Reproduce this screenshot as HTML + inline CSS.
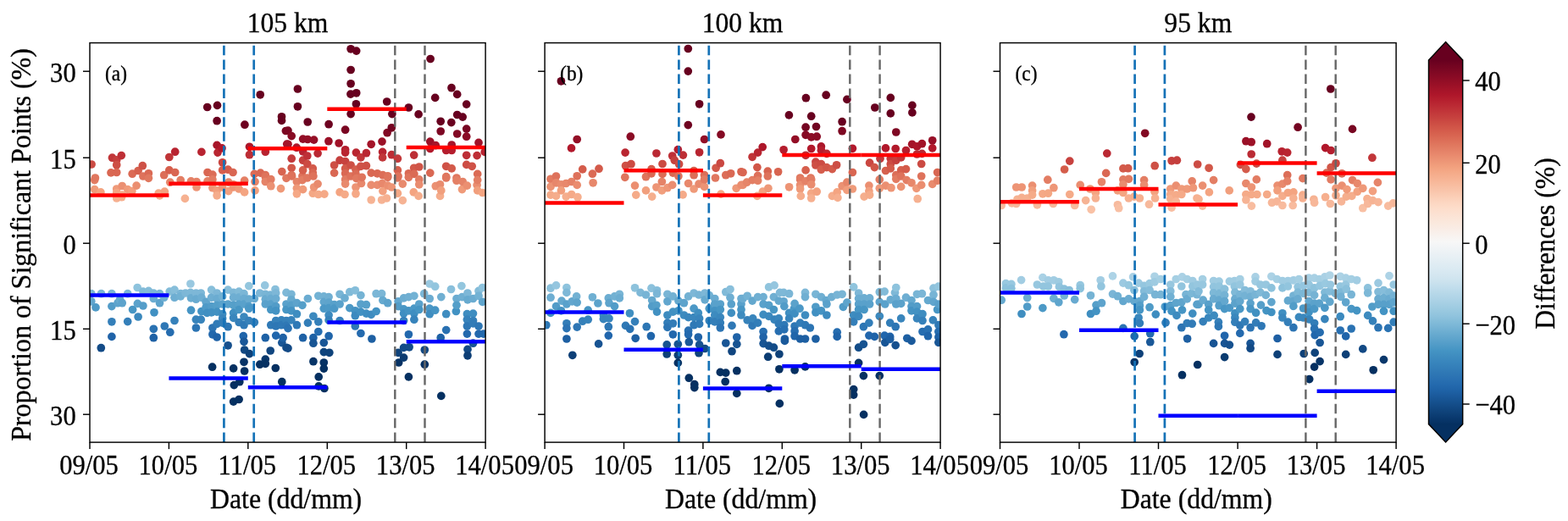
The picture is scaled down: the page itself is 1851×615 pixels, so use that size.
<!DOCTYPE html>
<html lang="en"><head><meta charset="utf-8"><title>Proportion of Significant Points</title>
<style>html,body{margin:0;padding:0;background:#fff}body{width:1851px;height:615px;overflow:hidden}svg{display:block}text{font-family:'Liberation Serif', 'DejaVu Serif', serif;fill:#000;stroke:#000;stroke-width:0.30px}</style>
</head><body>
<svg width="1851" height="615" viewBox="0 0 1851 615">
<rect width="1851" height="615" fill="#fff"/>
<g id="panel0">
<clipPath id="clip0"><rect x="106.0" y="50.6" width="467.1" height="471.5"/></clipPath>
<g clip-path="url(#clip0)">
<circle cx="107.8" cy="346.7" r="4.85" fill="#7bb6d6"/>
<circle cx="107.8" cy="355.8" r="4.85" fill="#62a6ce"/>
<circle cx="108.1" cy="194.0" r="4.85" fill="#cc4c44"/>
<circle cx="111.7" cy="212.6" r="4.85" fill="#e37e64"/>
<circle cx="111.7" cy="223.6" r="4.85" fill="#f09b7a"/>
<circle cx="112.4" cy="210.0" r="4.85" fill="#e0775f"/>
<circle cx="113.0" cy="362.9" r="4.85" fill="#4e9ac7"/>
<circle cx="118.9" cy="226.9" r="4.85" fill="#f4a481"/>
<circle cx="119.3" cy="410.7" r="4.85" fill="#134b87"/>
<circle cx="119.5" cy="346.7" r="4.85" fill="#7bb6d6"/>
<circle cx="131.0" cy="203.9" r="4.85" fill="#d96752"/>
<circle cx="131.9" cy="346.7" r="4.85" fill="#7bb6d6"/>
<circle cx="131.9" cy="361.6" r="4.85" fill="#529cc8"/>
<circle cx="131.9" cy="379.8" r="4.85" fill="#347fb9"/>
<circle cx="131.9" cy="397.4" r="4.85" fill="#2063a8"/>
<circle cx="132.5" cy="186.2" r="4.85" fill="#c13639"/>
<circle cx="137.7" cy="188.8" r="4.85" fill="#c53e3d"/>
<circle cx="137.7" cy="194.7" r="4.85" fill="#cd4e44"/>
<circle cx="137.7" cy="203.5" r="4.85" fill="#d96652"/>
<circle cx="137.7" cy="223.0" r="4.85" fill="#ef9a79"/>
<circle cx="137.7" cy="227.5" r="4.85" fill="#f4a582"/>
<circle cx="137.7" cy="234.0" r="4.85" fill="#f6b090"/>
<circle cx="139.0" cy="357.7" r="4.85" fill="#5da3cc"/>
<circle cx="141.6" cy="353.8" r="4.85" fill="#67aacf"/>
<circle cx="143.3" cy="183.6" r="4.85" fill="#be2f36"/>
<circle cx="143.6" cy="232.7" r="4.85" fill="#f6af8e"/>
<circle cx="144.2" cy="219.5" r="4.85" fill="#eb9072"/>
<circle cx="144.2" cy="230.1" r="4.85" fill="#f5ab89"/>
<circle cx="144.2" cy="357.7" r="4.85" fill="#5da3cc"/>
<circle cx="150.7" cy="223.6" r="4.85" fill="#f09b7a"/>
<circle cx="150.7" cy="346.7" r="4.85" fill="#7bb6d6"/>
<circle cx="150.7" cy="379.6" r="4.85" fill="#347fb9"/>
<circle cx="155.9" cy="225.6" r="4.85" fill="#f2a07f"/>
<circle cx="156.2" cy="205.2" r="4.85" fill="#db6a55"/>
<circle cx="156.6" cy="365.5" r="4.85" fill="#4796c4"/>
<circle cx="161.1" cy="219.1" r="4.85" fill="#eb8f71"/>
<circle cx="162.2" cy="339.5" r="4.85" fill="#8ec3dd"/>
<circle cx="162.4" cy="358.4" r="4.85" fill="#5ba2cb"/>
<circle cx="163.1" cy="201.5" r="4.85" fill="#d6614e"/>
<circle cx="163.1" cy="374.0" r="4.85" fill="#3b88bd"/>
<circle cx="168.3" cy="195.7" r="4.85" fill="#ce5146"/>
<circle cx="168.9" cy="208.0" r="4.85" fill="#de725b"/>
<circle cx="168.9" cy="344.1" r="4.85" fill="#82bbd8"/>
<circle cx="168.9" cy="361.0" r="4.85" fill="#549dc9"/>
<circle cx="175.4" cy="204.8" r="4.85" fill="#da6954"/>
<circle cx="175.4" cy="210.3" r="4.85" fill="#e0785f"/>
<circle cx="175.4" cy="343.4" r="4.85" fill="#84bcd9"/>
<circle cx="181.3" cy="346.0" r="4.85" fill="#7db7d7"/>
<circle cx="181.3" cy="352.5" r="4.85" fill="#6bacd1"/>
<circle cx="181.3" cy="388.3" r="4.85" fill="#2a72b2"/>
<circle cx="181.3" cy="398.7" r="4.85" fill="#1e61a5"/>
<circle cx="182.0" cy="368.8" r="4.85" fill="#4190c2"/>
<circle cx="187.2" cy="228.2" r="4.85" fill="#f4a784"/>
<circle cx="188.5" cy="230.8" r="4.85" fill="#f5ac8b"/>
<circle cx="188.5" cy="346.7" r="4.85" fill="#7bb6d6"/>
<circle cx="188.5" cy="357.7" r="4.85" fill="#5da3cc"/>
<circle cx="193.7" cy="206.7" r="4.85" fill="#dc6e58"/>
<circle cx="193.7" cy="351.2" r="4.85" fill="#6eaed2"/>
<circle cx="194.3" cy="226.2" r="4.85" fill="#f3a280"/>
<circle cx="194.3" cy="385.0" r="4.85" fill="#2e77b5"/>
<circle cx="199.8" cy="185.5" r="4.85" fill="#c03538"/>
<circle cx="199.8" cy="200.9" r="4.85" fill="#d65f4d"/>
<circle cx="200.2" cy="344.1" r="4.85" fill="#82bbd8"/>
<circle cx="200.8" cy="215.2" r="4.85" fill="#e68569"/>
<circle cx="200.8" cy="392.2" r="4.85" fill="#256caf"/>
<circle cx="206.0" cy="342.1" r="4.85" fill="#87beda"/>
<circle cx="206.0" cy="351.2" r="4.85" fill="#6eaed2"/>
<circle cx="206.0" cy="378.5" r="4.85" fill="#3681ba"/>
<circle cx="206.7" cy="179.2" r="4.85" fill="#b82330"/>
<circle cx="206.7" cy="203.5" r="4.85" fill="#d96652"/>
<circle cx="213.2" cy="212.6" r="4.85" fill="#e37e64"/>
<circle cx="213.2" cy="346.7" r="4.85" fill="#7bb6d6"/>
<circle cx="213.2" cy="349.9" r="4.85" fill="#72b1d3"/>
<circle cx="218.4" cy="234.4" r="4.85" fill="#f6b191"/>
<circle cx="219.0" cy="346.0" r="4.85" fill="#7db7d7"/>
<circle cx="224.9" cy="335.0" r="4.85" fill="#99c8e0"/>
<circle cx="224.9" cy="345.4" r="4.85" fill="#7eb8d7"/>
<circle cx="225.5" cy="213.9" r="4.85" fill="#e58267"/>
<circle cx="225.5" cy="351.9" r="4.85" fill="#6cadd1"/>
<circle cx="225.5" cy="366.2" r="4.85" fill="#4594c4"/>
<circle cx="231.4" cy="346.0" r="4.85" fill="#7db7d7"/>
<circle cx="231.4" cy="353.2" r="4.85" fill="#69abd0"/>
<circle cx="231.4" cy="377.2" r="4.85" fill="#3783bb"/>
<circle cx="231.4" cy="387.0" r="4.85" fill="#2c74b3"/>
<circle cx="232.0" cy="214.5" r="4.85" fill="#e58368"/>
<circle cx="232.0" cy="221.0" r="4.85" fill="#ed9475"/>
<circle cx="237.2" cy="346.0" r="4.85" fill="#7db7d7"/>
<circle cx="237.2" cy="377.2" r="4.85" fill="#3783bb"/>
<circle cx="237.9" cy="179.4" r="4.85" fill="#b82431"/>
<circle cx="237.9" cy="351.2" r="4.85" fill="#6eaed2"/>
<circle cx="237.9" cy="367.5" r="4.85" fill="#4292c3"/>
<circle cx="243.1" cy="356.4" r="4.85" fill="#60a5cd"/>
<circle cx="243.1" cy="362.9" r="4.85" fill="#4e9ac7"/>
<circle cx="244.4" cy="369.4" r="4.85" fill="#408fc1"/>
<circle cx="244.7" cy="126.5" r="4.85" fill="#67001f"/>
<circle cx="245.0" cy="203.5" r="4.85" fill="#d96652"/>
<circle cx="245.0" cy="213.9" r="4.85" fill="#e58267"/>
<circle cx="249.6" cy="342.1" r="4.85" fill="#87beda"/>
<circle cx="249.6" cy="351.2" r="4.85" fill="#6eaed2"/>
<circle cx="249.6" cy="361.6" r="4.85" fill="#529cc8"/>
<circle cx="249.6" cy="368.8" r="4.85" fill="#4190c2"/>
<circle cx="250.6" cy="433.2" r="4.85" fill="#053061"/>
<circle cx="250.9" cy="206.1" r="4.85" fill="#dc6d57"/>
<circle cx="250.9" cy="211.9" r="4.85" fill="#e27c63"/>
<circle cx="250.9" cy="221.7" r="4.85" fill="#ee9677"/>
<circle cx="250.9" cy="387.0" r="4.85" fill="#2c74b3"/>
<circle cx="250.9" cy="394.8" r="4.85" fill="#2268ad"/>
<circle cx="256.1" cy="142.7" r="4.85" fill="#67001f"/>
<circle cx="256.1" cy="171.4" r="4.85" fill="#a71529"/>
<circle cx="256.1" cy="224.9" r="4.85" fill="#f19f7d"/>
<circle cx="256.1" cy="230.8" r="4.85" fill="#f5ac8b"/>
<circle cx="256.1" cy="346.0" r="4.85" fill="#7db7d7"/>
<circle cx="256.1" cy="352.5" r="4.85" fill="#6bacd1"/>
<circle cx="256.1" cy="360.3" r="4.85" fill="#559fc9"/>
<circle cx="256.1" cy="368.1" r="4.85" fill="#4291c2"/>
<circle cx="256.1" cy="382.4" r="4.85" fill="#317bb7"/>
<circle cx="256.1" cy="398.0" r="4.85" fill="#1f62a7"/>
<circle cx="256.5" cy="124.4" r="4.85" fill="#67001f"/>
<circle cx="257.0" cy="180.1" r="4.85" fill="#b92631"/>
<circle cx="262.0" cy="174.9" r="4.85" fill="#b1182b"/>
<circle cx="262.6" cy="191.8" r="4.85" fill="#c94641"/>
<circle cx="262.6" cy="200.9" r="4.85" fill="#d65f4d"/>
<circle cx="262.6" cy="221.0" r="4.85" fill="#ed9475"/>
<circle cx="262.6" cy="349.9" r="4.85" fill="#72b1d3"/>
<circle cx="262.6" cy="359.0" r="4.85" fill="#59a1cb"/>
<circle cx="262.6" cy="370.7" r="4.85" fill="#3f8dc0"/>
<circle cx="262.6" cy="375.9" r="4.85" fill="#3985bc"/>
<circle cx="262.6" cy="381.1" r="4.85" fill="#327db8"/>
<circle cx="269.1" cy="200.2" r="4.85" fill="#d55d4c"/>
<circle cx="269.1" cy="342.1" r="4.85" fill="#87beda"/>
<circle cx="269.1" cy="359.0" r="4.85" fill="#59a1cb"/>
<circle cx="269.1" cy="385.7" r="4.85" fill="#2d76b4"/>
<circle cx="269.1" cy="407.8" r="4.85" fill="#16508d"/>
<circle cx="269.8" cy="215.2" r="4.85" fill="#e68569"/>
<circle cx="269.8" cy="225.6" r="4.85" fill="#f2a07f"/>
<circle cx="275.0" cy="203.5" r="4.85" fill="#d96652"/>
<circle cx="275.6" cy="217.8" r="4.85" fill="#e98c6f"/>
<circle cx="275.6" cy="221.0" r="4.85" fill="#ed9475"/>
<circle cx="275.6" cy="345.4" r="4.85" fill="#7eb8d7"/>
<circle cx="275.6" cy="351.2" r="4.85" fill="#6eaed2"/>
<circle cx="275.6" cy="360.3" r="4.85" fill="#559fc9"/>
<circle cx="275.6" cy="369.4" r="4.85" fill="#408fc1"/>
<circle cx="275.6" cy="375.3" r="4.85" fill="#3986bc"/>
<circle cx="275.6" cy="434.9" r="4.85" fill="#053061"/>
<circle cx="275.6" cy="474.1" r="4.85" fill="#053061"/>
<circle cx="276.3" cy="454.6" r="4.85" fill="#053061"/>
<circle cx="282.1" cy="223.0" r="4.85" fill="#ef9a79"/>
<circle cx="282.1" cy="344.1" r="4.85" fill="#82bbd8"/>
<circle cx="282.1" cy="351.2" r="4.85" fill="#6eaed2"/>
<circle cx="282.1" cy="359.0" r="4.85" fill="#59a1cb"/>
<circle cx="282.1" cy="365.5" r="4.85" fill="#4796c4"/>
<circle cx="282.1" cy="380.5" r="4.85" fill="#337eb8"/>
<circle cx="282.1" cy="471.5" r="4.85" fill="#053061"/>
<circle cx="282.8" cy="450.7" r="4.85" fill="#053061"/>
<circle cx="287.3" cy="396.7" r="4.85" fill="#2065aa"/>
<circle cx="288.0" cy="346.7" r="4.85" fill="#7bb6d6"/>
<circle cx="288.0" cy="352.5" r="4.85" fill="#6bacd1"/>
<circle cx="288.0" cy="359.0" r="4.85" fill="#59a1cb"/>
<circle cx="288.0" cy="374.0" r="4.85" fill="#3b88bd"/>
<circle cx="288.0" cy="383.7" r="4.85" fill="#2f79b6"/>
<circle cx="288.0" cy="403.3" r="4.85" fill="#1a5899"/>
<circle cx="288.0" cy="427.3" r="4.85" fill="#073366"/>
<circle cx="288.6" cy="213.2" r="4.85" fill="#e48065"/>
<circle cx="288.6" cy="226.9" r="4.85" fill="#f4a481"/>
<circle cx="288.6" cy="413.0" r="4.85" fill="#114882"/>
<circle cx="288.6" cy="438.0" r="4.85" fill="#053061"/>
<circle cx="288.9" cy="147.2" r="4.85" fill="#6e0220"/>
<circle cx="293.8" cy="337.6" r="4.85" fill="#93c6de"/>
<circle cx="293.8" cy="353.2" r="4.85" fill="#69abd0"/>
<circle cx="293.8" cy="361.6" r="4.85" fill="#529cc8"/>
<circle cx="293.8" cy="364.2" r="4.85" fill="#4b98c6"/>
<circle cx="293.8" cy="378.5" r="4.85" fill="#3681ba"/>
<circle cx="294.5" cy="173.3" r="4.85" fill="#ad162a"/>
<circle cx="294.5" cy="182.7" r="4.85" fill="#bc2d35"/>
<circle cx="294.5" cy="417.6" r="4.85" fill="#0e4179"/>
<circle cx="300.3" cy="205.4" r="4.85" fill="#db6b55"/>
<circle cx="300.3" cy="352.5" r="4.85" fill="#6bacd1"/>
<circle cx="300.3" cy="380.5" r="4.85" fill="#337eb8"/>
<circle cx="301.0" cy="214.5" r="4.85" fill="#e58368"/>
<circle cx="301.0" cy="224.9" r="4.85" fill="#f19f7d"/>
<circle cx="306.8" cy="346.0" r="4.85" fill="#7db7d7"/>
<circle cx="306.8" cy="430.2" r="4.85" fill="#053061"/>
<circle cx="307.2" cy="111.8" r="4.85" fill="#67001f"/>
<circle cx="307.5" cy="204.1" r="4.85" fill="#d96853"/>
<circle cx="312.7" cy="336.9" r="4.85" fill="#95c6df"/>
<circle cx="313.3" cy="179.2" r="4.85" fill="#b82330"/>
<circle cx="313.3" cy="206.7" r="4.85" fill="#dc6e58"/>
<circle cx="313.3" cy="208.7" r="4.85" fill="#df745c"/>
<circle cx="313.3" cy="214.5" r="4.85" fill="#e58368"/>
<circle cx="313.3" cy="347.3" r="4.85" fill="#79b5d5"/>
<circle cx="313.3" cy="353.2" r="4.85" fill="#69abd0"/>
<circle cx="313.3" cy="359.0" r="4.85" fill="#59a1cb"/>
<circle cx="313.3" cy="398.7" r="4.85" fill="#1e61a5"/>
<circle cx="313.3" cy="424.1" r="4.85" fill="#09386c"/>
<circle cx="313.3" cy="429.3" r="4.85" fill="#053162"/>
<circle cx="319.2" cy="348.0" r="4.85" fill="#77b4d5"/>
<circle cx="319.2" cy="414.0" r="4.85" fill="#114680"/>
<circle cx="319.8" cy="211.7" r="4.85" fill="#e27c62"/>
<circle cx="319.8" cy="219.7" r="4.85" fill="#eb9173"/>
<circle cx="319.8" cy="352.5" r="4.85" fill="#6bacd1"/>
<circle cx="319.8" cy="359.0" r="4.85" fill="#59a1cb"/>
<circle cx="319.8" cy="365.5" r="4.85" fill="#4796c4"/>
<circle cx="319.8" cy="383.7" r="4.85" fill="#2f79b6"/>
<circle cx="325.0" cy="341.5" r="4.85" fill="#89bfdb"/>
<circle cx="325.3" cy="434.5" r="4.85" fill="#053061"/>
<circle cx="325.7" cy="346.0" r="4.85" fill="#7db7d7"/>
<circle cx="325.7" cy="352.5" r="4.85" fill="#6bacd1"/>
<circle cx="325.7" cy="361.6" r="4.85" fill="#529cc8"/>
<circle cx="325.7" cy="366.8" r="4.85" fill="#4493c3"/>
<circle cx="325.7" cy="378.5" r="4.85" fill="#3681ba"/>
<circle cx="325.7" cy="385.0" r="4.85" fill="#2e77b5"/>
<circle cx="325.7" cy="396.1" r="4.85" fill="#2166ac"/>
<circle cx="331.5" cy="222.6" r="4.85" fill="#ef9978"/>
<circle cx="332.2" cy="377.9" r="4.85" fill="#3682ba"/>
<circle cx="332.2" cy="383.7" r="4.85" fill="#2f79b6"/>
<circle cx="332.5" cy="137.8" r="4.85" fill="#67001f"/>
<circle cx="332.5" cy="142.4" r="4.85" fill="#67001f"/>
<circle cx="332.8" cy="202.6" r="4.85" fill="#d86450"/>
<circle cx="332.8" cy="404.6" r="4.85" fill="#195696"/>
<circle cx="332.8" cy="450.7" r="4.85" fill="#053061"/>
<circle cx="334.1" cy="398.7" r="4.85" fill="#1e61a5"/>
<circle cx="337.4" cy="154.5" r="4.85" fill="#7c0722"/>
<circle cx="338.0" cy="210.3" r="4.85" fill="#e0785f"/>
<circle cx="338.0" cy="345.4" r="4.85" fill="#7eb8d7"/>
<circle cx="338.0" cy="359.0" r="4.85" fill="#59a1cb"/>
<circle cx="338.0" cy="365.5" r="4.85" fill="#4796c4"/>
<circle cx="338.0" cy="378.5" r="4.85" fill="#3681ba"/>
<circle cx="338.0" cy="384.4" r="4.85" fill="#2f78b5"/>
<circle cx="338.0" cy="410.4" r="4.85" fill="#134b87"/>
<circle cx="338.7" cy="170.1" r="4.85" fill="#a31329"/>
<circle cx="340.0" cy="154.1" r="4.85" fill="#7c0722"/>
<circle cx="340.0" cy="170.3" r="4.85" fill="#a41429"/>
<circle cx="340.0" cy="387.6" r="4.85" fill="#2b73b3"/>
<circle cx="340.0" cy="411.1" r="4.85" fill="#134a86"/>
<circle cx="343.9" cy="347.3" r="4.85" fill="#79b5d5"/>
<circle cx="343.9" cy="353.8" r="4.85" fill="#67aacf"/>
<circle cx="343.9" cy="360.3" r="4.85" fill="#559fc9"/>
<circle cx="343.9" cy="366.8" r="4.85" fill="#4493c3"/>
<circle cx="343.9" cy="377.9" r="4.85" fill="#3682ba"/>
<circle cx="344.2" cy="160.6" r="4.85" fill="#880b24"/>
<circle cx="344.2" cy="187.2" r="4.85" fill="#c3393b"/>
<circle cx="344.2" cy="198.3" r="4.85" fill="#d25849"/>
<circle cx="344.2" cy="206.7" r="4.85" fill="#dc6e58"/>
<circle cx="344.6" cy="208.0" r="4.85" fill="#de725b"/>
<circle cx="350.1" cy="174.2" r="4.85" fill="#af172b"/>
<circle cx="350.4" cy="214.5" r="4.85" fill="#e58368"/>
<circle cx="350.4" cy="222.3" r="4.85" fill="#ee9878"/>
<circle cx="350.4" cy="228.8" r="4.85" fill="#f5a886"/>
<circle cx="350.4" cy="357.7" r="4.85" fill="#5da3cc"/>
<circle cx="350.4" cy="370.7" r="4.85" fill="#3f8dc0"/>
<circle cx="350.4" cy="383.7" r="4.85" fill="#2f79b6"/>
<circle cx="351.4" cy="105.0" r="4.85" fill="#67001f"/>
<circle cx="351.4" cy="125.8" r="4.85" fill="#67001f"/>
<circle cx="356.9" cy="208.0" r="4.85" fill="#de725b"/>
<circle cx="356.9" cy="212.6" r="4.85" fill="#e37e64"/>
<circle cx="356.9" cy="360.3" r="4.85" fill="#559fc9"/>
<circle cx="357.6" cy="164.1" r="4.85" fill="#920e26"/>
<circle cx="357.6" cy="178.8" r="4.85" fill="#b72230"/>
<circle cx="357.6" cy="189.2" r="4.85" fill="#c53f3d"/>
<circle cx="357.6" cy="200.9" r="4.85" fill="#d65f4d"/>
<circle cx="357.6" cy="223.6" r="4.85" fill="#f09b7a"/>
<circle cx="357.6" cy="398.7" r="4.85" fill="#1e61a5"/>
<circle cx="362.8" cy="184.0" r="4.85" fill="#be3037"/>
<circle cx="362.8" cy="193.7" r="4.85" fill="#cc4b43"/>
<circle cx="362.8" cy="210.0" r="4.85" fill="#e0775f"/>
<circle cx="363.2" cy="144.0" r="4.85" fill="#68001f"/>
<circle cx="363.2" cy="164.5" r="4.85" fill="#930e26"/>
<circle cx="363.4" cy="352.5" r="4.85" fill="#6bacd1"/>
<circle cx="363.4" cy="381.1" r="4.85" fill="#327db8"/>
<circle cx="369.3" cy="198.9" r="4.85" fill="#d35a4a"/>
<circle cx="369.3" cy="204.1" r="4.85" fill="#d96853"/>
<circle cx="369.3" cy="228.2" r="4.85" fill="#f4a784"/>
<circle cx="369.9" cy="208.0" r="4.85" fill="#de725b"/>
<circle cx="369.9" cy="373.3" r="4.85" fill="#3c89be"/>
<circle cx="369.9" cy="398.7" r="4.85" fill="#1e61a5"/>
<circle cx="369.9" cy="405.2" r="4.85" fill="#185594"/>
<circle cx="369.9" cy="426.7" r="4.85" fill="#073467"/>
<circle cx="370.6" cy="165.1" r="4.85" fill="#950f26"/>
<circle cx="370.6" cy="221.0" r="4.85" fill="#ed9475"/>
<circle cx="375.1" cy="181.1" r="4.85" fill="#ba2833"/>
<circle cx="375.1" cy="217.1" r="4.85" fill="#e88a6d"/>
<circle cx="375.8" cy="229.5" r="4.85" fill="#f5aa88"/>
<circle cx="375.8" cy="349.3" r="4.85" fill="#73b2d4"/>
<circle cx="375.8" cy="379.8" r="4.85" fill="#347fb9"/>
<circle cx="375.8" cy="391.5" r="4.85" fill="#266db0"/>
<circle cx="376.2" cy="444.9" r="4.85" fill="#053061"/>
<circle cx="376.2" cy="455.9" r="4.85" fill="#053061"/>
<circle cx="382.3" cy="349.9" r="4.85" fill="#72b1d3"/>
<circle cx="382.3" cy="356.4" r="4.85" fill="#60a5cd"/>
<circle cx="382.3" cy="364.2" r="4.85" fill="#4b98c6"/>
<circle cx="382.3" cy="404.6" r="4.85" fill="#195696"/>
<circle cx="382.3" cy="415.6" r="4.85" fill="#0f447d"/>
<circle cx="382.3" cy="428.0" r="4.85" fill="#063264"/>
<circle cx="382.3" cy="435.1" r="4.85" fill="#053061"/>
<circle cx="382.9" cy="229.1" r="4.85" fill="#f5a987"/>
<circle cx="382.9" cy="458.5" r="4.85" fill="#053061"/>
<circle cx="387.9" cy="166.7" r="4.85" fill="#9a1027"/>
<circle cx="388.1" cy="146.7" r="4.85" fill="#6d0220"/>
<circle cx="388.1" cy="350.6" r="4.85" fill="#70afd2"/>
<circle cx="388.1" cy="357.1" r="4.85" fill="#5ea4cc"/>
<circle cx="388.1" cy="363.6" r="4.85" fill="#4c99c6"/>
<circle cx="388.1" cy="372.0" r="4.85" fill="#3d8bbf"/>
<circle cx="388.1" cy="377.9" r="4.85" fill="#3682ba"/>
<circle cx="388.1" cy="396.7" r="4.85" fill="#2065aa"/>
<circle cx="388.8" cy="416.3" r="4.85" fill="#0f437b"/>
<circle cx="394.6" cy="195.0" r="4.85" fill="#cd4f45"/>
<circle cx="394.6" cy="204.1" r="4.85" fill="#d96853"/>
<circle cx="394.6" cy="359.7" r="4.85" fill="#57a0ca"/>
<circle cx="394.6" cy="364.2" r="4.85" fill="#4b98c6"/>
<circle cx="400.1" cy="169.0" r="4.85" fill="#a01228"/>
<circle cx="401.1" cy="189.2" r="4.85" fill="#c53f3d"/>
<circle cx="401.1" cy="226.9" r="4.85" fill="#f4a481"/>
<circle cx="401.1" cy="347.3" r="4.85" fill="#79b5d5"/>
<circle cx="401.1" cy="359.0" r="4.85" fill="#59a1cb"/>
<circle cx="401.1" cy="378.5" r="4.85" fill="#3681ba"/>
<circle cx="407.0" cy="229.5" r="4.85" fill="#f5aa88"/>
<circle cx="407.0" cy="351.9" r="4.85" fill="#6cadd1"/>
<circle cx="407.6" cy="153.2" r="4.85" fill="#7a0622"/>
<circle cx="407.6" cy="176.8" r="4.85" fill="#b41d2d"/>
<circle cx="407.6" cy="180.1" r="4.85" fill="#b92631"/>
<circle cx="407.6" cy="190.5" r="4.85" fill="#c7423f"/>
<circle cx="407.6" cy="198.9" r="4.85" fill="#d35a4a"/>
<circle cx="407.6" cy="204.8" r="4.85" fill="#da6954"/>
<circle cx="407.6" cy="211.9" r="4.85" fill="#e27c63"/>
<circle cx="407.6" cy="217.1" r="4.85" fill="#e88a6d"/>
<circle cx="412.8" cy="344.7" r="4.85" fill="#80bad8"/>
<circle cx="412.8" cy="363.6" r="4.85" fill="#4c99c6"/>
<circle cx="413.9" cy="111.1" r="4.85" fill="#67001f"/>
<circle cx="414.1" cy="57.8" r="4.85" fill="#67001f"/>
<circle cx="414.1" cy="82.5" r="4.85" fill="#67001f"/>
<circle cx="414.1" cy="98.8" r="4.85" fill="#67001f"/>
<circle cx="414.1" cy="134.6" r="4.85" fill="#67001f"/>
<circle cx="414.1" cy="195.0" r="4.85" fill="#cd4f45"/>
<circle cx="414.1" cy="208.0" r="4.85" fill="#de725b"/>
<circle cx="419.3" cy="342.8" r="4.85" fill="#85bdda"/>
<circle cx="419.3" cy="366.8" r="4.85" fill="#4493c3"/>
<circle cx="419.3" cy="372.7" r="4.85" fill="#3c8abf"/>
<circle cx="419.3" cy="385.0" r="4.85" fill="#2e77b5"/>
<circle cx="420.0" cy="200.2" r="4.85" fill="#d55d4c"/>
<circle cx="420.0" cy="205.4" r="4.85" fill="#db6b55"/>
<circle cx="420.0" cy="221.0" r="4.85" fill="#ed9475"/>
<circle cx="420.0" cy="228.8" r="4.85" fill="#f5a886"/>
<circle cx="420.4" cy="122.8" r="4.85" fill="#67001f"/>
<circle cx="420.4" cy="180.1" r="4.85" fill="#b92631"/>
<circle cx="420.7" cy="60.1" r="4.85" fill="#67001f"/>
<circle cx="420.7" cy="109.8" r="4.85" fill="#67001f"/>
<circle cx="420.7" cy="210.6" r="4.85" fill="#e17960"/>
<circle cx="425.9" cy="185.9" r="4.85" fill="#c13639"/>
<circle cx="425.9" cy="196.3" r="4.85" fill="#cf5247"/>
<circle cx="425.9" cy="348.6" r="4.85" fill="#75b3d4"/>
<circle cx="425.9" cy="359.0" r="4.85" fill="#59a1cb"/>
<circle cx="425.9" cy="368.1" r="4.85" fill="#4291c2"/>
<circle cx="425.9" cy="393.5" r="4.85" fill="#246aae"/>
<circle cx="426.5" cy="216.5" r="4.85" fill="#e8886c"/>
<circle cx="427.2" cy="209.3" r="4.85" fill="#df755d"/>
<circle cx="432.4" cy="180.7" r="4.85" fill="#ba2732"/>
<circle cx="432.4" cy="195.7" r="4.85" fill="#ce5146"/>
<circle cx="432.4" cy="359.7" r="4.85" fill="#57a0ca"/>
<circle cx="432.4" cy="370.1" r="4.85" fill="#3f8ec1"/>
<circle cx="438.2" cy="170.3" r="4.85" fill="#a41429"/>
<circle cx="438.2" cy="204.1" r="4.85" fill="#d96853"/>
<circle cx="438.2" cy="218.4" r="4.85" fill="#ea8d70"/>
<circle cx="438.2" cy="236.0" r="4.85" fill="#f6b394"/>
<circle cx="438.2" cy="371.4" r="4.85" fill="#3e8cc0"/>
<circle cx="438.9" cy="400.0" r="4.85" fill="#1d5fa2"/>
<circle cx="444.1" cy="346.7" r="4.85" fill="#7bb6d6"/>
<circle cx="444.1" cy="367.5" r="4.85" fill="#4292c3"/>
<circle cx="445.4" cy="204.8" r="4.85" fill="#da6954"/>
<circle cx="445.4" cy="218.4" r="4.85" fill="#ea8d70"/>
<circle cx="450.6" cy="236.0" r="4.85" fill="#f6b394"/>
<circle cx="450.6" cy="346.7" r="4.85" fill="#7bb6d6"/>
<circle cx="451.0" cy="167.1" r="4.85" fill="#9b1127"/>
<circle cx="451.2" cy="216.5" r="4.85" fill="#e8886c"/>
<circle cx="451.6" cy="179.4" r="4.85" fill="#b82431"/>
<circle cx="451.6" cy="185.9" r="4.85" fill="#c13639"/>
<circle cx="451.9" cy="206.7" r="4.85" fill="#dc6e58"/>
<circle cx="451.9" cy="225.6" r="4.85" fill="#f2a07f"/>
<circle cx="451.9" cy="354.5" r="4.85" fill="#65a9cf"/>
<circle cx="456.4" cy="234.0" r="4.85" fill="#f6b090"/>
<circle cx="456.7" cy="120.0" r="4.85" fill="#67001f"/>
<circle cx="457.1" cy="156.7" r="4.85" fill="#810823"/>
<circle cx="457.7" cy="207.8" r="4.85" fill="#de715a"/>
<circle cx="457.7" cy="219.1" r="4.85" fill="#eb8f71"/>
<circle cx="457.7" cy="209.3" r="4.85" fill="#df755d"/>
<circle cx="457.7" cy="357.7" r="4.85" fill="#5da3cc"/>
<circle cx="462.3" cy="150.8" r="4.85" fill="#750421"/>
<circle cx="462.3" cy="182.7" r="4.85" fill="#bc2d35"/>
<circle cx="462.3" cy="221.0" r="4.85" fill="#ed9475"/>
<circle cx="462.9" cy="134.6" r="4.85" fill="#67001f"/>
<circle cx="469.4" cy="187.2" r="4.85" fill="#c3393b"/>
<circle cx="469.4" cy="200.9" r="4.85" fill="#d65f4d"/>
<circle cx="469.4" cy="210.0" r="4.85" fill="#e0775f"/>
<circle cx="469.4" cy="228.2" r="4.85" fill="#f4a784"/>
<circle cx="470.1" cy="208.0" r="4.85" fill="#de725b"/>
<circle cx="470.1" cy="355.8" r="4.85" fill="#62a6ce"/>
<circle cx="470.1" cy="361.6" r="4.85" fill="#529cc8"/>
<circle cx="470.1" cy="416.3" r="4.85" fill="#0f437b"/>
<circle cx="470.7" cy="428.0" r="4.85" fill="#063264"/>
<circle cx="475.3" cy="217.1" r="4.85" fill="#e88a6d"/>
<circle cx="475.3" cy="236.6" r="4.85" fill="#f6b394"/>
<circle cx="476.6" cy="351.9" r="4.85" fill="#6cadd1"/>
<circle cx="476.6" cy="364.9" r="4.85" fill="#4997c5"/>
<circle cx="476.6" cy="370.1" r="4.85" fill="#3f8ec1"/>
<circle cx="476.6" cy="378.5" r="4.85" fill="#3681ba"/>
<circle cx="476.6" cy="410.4" r="4.85" fill="#134b87"/>
<circle cx="476.6" cy="422.1" r="4.85" fill="#0b3b70"/>
<circle cx="482.4" cy="127.0" r="4.85" fill="#67001f"/>
<circle cx="482.4" cy="204.8" r="4.85" fill="#da6954"/>
<circle cx="482.4" cy="209.3" r="4.85" fill="#df755d"/>
<circle cx="482.4" cy="350.6" r="4.85" fill="#70afd2"/>
<circle cx="482.4" cy="366.8" r="4.85" fill="#4493c3"/>
<circle cx="482.4" cy="394.8" r="4.85" fill="#2268ad"/>
<circle cx="482.4" cy="444.9" r="4.85" fill="#053061"/>
<circle cx="483.1" cy="409.8" r="4.85" fill="#144c88"/>
<circle cx="488.3" cy="226.9" r="4.85" fill="#f4a481"/>
<circle cx="488.7" cy="183.1" r="4.85" fill="#bd2e35"/>
<circle cx="488.7" cy="198.3" r="4.85" fill="#d25849"/>
<circle cx="488.9" cy="205.4" r="4.85" fill="#db6b55"/>
<circle cx="488.9" cy="349.3" r="4.85" fill="#73b2d4"/>
<circle cx="488.9" cy="364.2" r="4.85" fill="#4b98c6"/>
<circle cx="488.9" cy="370.1" r="4.85" fill="#3f8ec1"/>
<circle cx="488.9" cy="377.2" r="4.85" fill="#3783bb"/>
<circle cx="494.1" cy="134.9" r="4.85" fill="#67001f"/>
<circle cx="494.1" cy="231.4" r="4.85" fill="#f5ad8c"/>
<circle cx="494.8" cy="197.0" r="4.85" fill="#d05447"/>
<circle cx="494.8" cy="211.9" r="4.85" fill="#e27c63"/>
<circle cx="494.8" cy="217.8" r="4.85" fill="#e98c6f"/>
<circle cx="494.8" cy="359.0" r="4.85" fill="#59a1cb"/>
<circle cx="494.8" cy="365.5" r="4.85" fill="#4796c4"/>
<circle cx="500.7" cy="346.7" r="4.85" fill="#7bb6d6"/>
<circle cx="501.3" cy="413.0" r="4.85" fill="#114882"/>
<circle cx="501.3" cy="430.2" r="4.85" fill="#053061"/>
<circle cx="507.2" cy="335.0" r="4.85" fill="#99c8e0"/>
<circle cx="507.2" cy="352.5" r="4.85" fill="#6bacd1"/>
<circle cx="507.2" cy="364.2" r="4.85" fill="#4b98c6"/>
<circle cx="507.2" cy="370.7" r="4.85" fill="#3f8dc0"/>
<circle cx="507.8" cy="167.1" r="4.85" fill="#9b1127"/>
<circle cx="507.8" cy="175.5" r="4.85" fill="#b2192b"/>
<circle cx="507.8" cy="204.1" r="4.85" fill="#d96853"/>
<circle cx="508.1" cy="69.5" r="4.85" fill="#67001f"/>
<circle cx="513.7" cy="115.4" r="4.85" fill="#67001f"/>
<circle cx="513.7" cy="338.2" r="4.85" fill="#92c5de"/>
<circle cx="513.7" cy="366.2" r="4.85" fill="#4594c4"/>
<circle cx="514.3" cy="171.6" r="4.85" fill="#a81529"/>
<circle cx="514.3" cy="219.7" r="4.85" fill="#eb9173"/>
<circle cx="519.5" cy="217.8" r="4.85" fill="#e98c6f"/>
<circle cx="519.5" cy="231.4" r="4.85" fill="#f5ad8c"/>
<circle cx="520.2" cy="143.3" r="4.85" fill="#67001f"/>
<circle cx="520.2" cy="155.0" r="4.85" fill="#7d0723"/>
<circle cx="520.2" cy="398.7" r="4.85" fill="#1e61a5"/>
<circle cx="520.8" cy="224.9" r="4.85" fill="#f19f7d"/>
<circle cx="520.8" cy="350.6" r="4.85" fill="#70afd2"/>
<circle cx="520.8" cy="467.4" r="4.85" fill="#053061"/>
<circle cx="526.7" cy="177.5" r="4.85" fill="#b51e2e"/>
<circle cx="526.7" cy="196.3" r="4.85" fill="#cf5247"/>
<circle cx="526.7" cy="208.7" r="4.85" fill="#df745c"/>
<circle cx="526.7" cy="210.0" r="4.85" fill="#e0775f"/>
<circle cx="526.7" cy="370.7" r="4.85" fill="#3f8dc0"/>
<circle cx="526.7" cy="389.6" r="4.85" fill="#2970b1"/>
<circle cx="532.5" cy="341.5" r="4.85" fill="#89bfdb"/>
<circle cx="532.8" cy="144.6" r="4.85" fill="#69011f"/>
<circle cx="533.0" cy="103.7" r="4.85" fill="#67001f"/>
<circle cx="533.2" cy="171.0" r="4.85" fill="#a61429"/>
<circle cx="533.2" cy="177.5" r="4.85" fill="#b51e2e"/>
<circle cx="533.2" cy="198.9" r="4.85" fill="#d35a4a"/>
<circle cx="538.4" cy="367.5" r="4.85" fill="#4292c3"/>
<circle cx="539.0" cy="210.0" r="4.85" fill="#e0775f"/>
<circle cx="539.0" cy="213.2" r="4.85" fill="#e48065"/>
<circle cx="539.0" cy="352.5" r="4.85" fill="#6bacd1"/>
<circle cx="539.0" cy="360.3" r="4.85" fill="#559fc9"/>
<circle cx="539.7" cy="111.4" r="4.85" fill="#67001f"/>
<circle cx="539.7" cy="135.5" r="4.85" fill="#67001f"/>
<circle cx="539.7" cy="158.0" r="4.85" fill="#830924"/>
<circle cx="544.9" cy="337.6" r="4.85" fill="#93c6de"/>
<circle cx="545.5" cy="223.6" r="4.85" fill="#f09b7a"/>
<circle cx="545.5" cy="350.6" r="4.85" fill="#70afd2"/>
<circle cx="546.2" cy="138.1" r="4.85" fill="#67001f"/>
<circle cx="546.2" cy="214.5" r="4.85" fill="#e58368"/>
<circle cx="550.7" cy="123.1" r="4.85" fill="#67001f"/>
<circle cx="550.7" cy="152.1" r="4.85" fill="#780522"/>
<circle cx="550.7" cy="161.2" r="4.85" fill="#8a0b25"/>
<circle cx="550.7" cy="183.3" r="4.85" fill="#bd2e36"/>
<circle cx="550.7" cy="194.4" r="4.85" fill="#cd4d44"/>
<circle cx="551.4" cy="219.1" r="4.85" fill="#eb8f71"/>
<circle cx="551.4" cy="370.7" r="4.85" fill="#3f8dc0"/>
<circle cx="551.4" cy="377.2" r="4.85" fill="#3783bb"/>
<circle cx="551.4" cy="385.0" r="4.85" fill="#2e77b5"/>
<circle cx="551.4" cy="394.1" r="4.85" fill="#2369ad"/>
<circle cx="552.0" cy="346.0" r="4.85" fill="#7db7d7"/>
<circle cx="552.0" cy="353.8" r="4.85" fill="#67aacf"/>
<circle cx="552.0" cy="412.4" r="4.85" fill="#124983"/>
<circle cx="552.0" cy="419.8" r="4.85" fill="#0c3e75"/>
<circle cx="557.2" cy="196.3" r="4.85" fill="#cf5247"/>
<circle cx="558.5" cy="352.5" r="4.85" fill="#6bacd1"/>
<circle cx="558.5" cy="370.1" r="4.85" fill="#3f8ec1"/>
<circle cx="558.5" cy="378.5" r="4.85" fill="#3681ba"/>
<circle cx="558.5" cy="381.8" r="4.85" fill="#327cb7"/>
<circle cx="558.5" cy="405.2" r="4.85" fill="#185594"/>
<circle cx="563.1" cy="183.6" r="4.85" fill="#be2f36"/>
<circle cx="563.1" cy="218.4" r="4.85" fill="#ea8d70"/>
<circle cx="563.7" cy="205.4" r="4.85" fill="#db6b55"/>
<circle cx="563.7" cy="212.6" r="4.85" fill="#e37e64"/>
<circle cx="563.7" cy="224.9" r="4.85" fill="#f19f7d"/>
<circle cx="565.0" cy="168.4" r="4.85" fill="#9f1228"/>
<circle cx="565.0" cy="343.4" r="4.85" fill="#84bcd9"/>
<circle cx="565.0" cy="349.3" r="4.85" fill="#73b2d4"/>
<circle cx="565.0" cy="385.0" r="4.85" fill="#2e77b5"/>
<circle cx="565.0" cy="394.1" r="4.85" fill="#2369ad"/>
<circle cx="569.6" cy="227.5" r="4.85" fill="#f4a582"/>
<circle cx="569.6" cy="339.5" r="4.85" fill="#8ec3dd"/>
<circle cx="569.6" cy="356.4" r="4.85" fill="#60a5cd"/>
<circle cx="570.9" cy="394.1" r="4.85" fill="#2369ad"/>
<circle cx="572.2" cy="179.4" r="4.85" fill="#b82431"/>
<line x1="264.4" y1="522.1" x2="264.4" y2="50.6" stroke="#1572b7" stroke-width="2.7" stroke-dasharray="11.6 5.32" stroke-dashoffset="0.0"/>
<line x1="299.7" y1="522.1" x2="299.7" y2="50.6" stroke="#1572b7" stroke-width="2.7" stroke-dasharray="11.6 5.32" stroke-dashoffset="0.0"/>
<line x1="466.3" y1="522.1" x2="466.3" y2="50.6" stroke="#666666" stroke-width="2.4" stroke-dasharray="11.6 5.32" stroke-dashoffset="0.0"/>
<line x1="501.5" y1="522.1" x2="501.5" y2="50.6" stroke="#666666" stroke-width="2.4" stroke-dasharray="11.6 5.32" stroke-dashoffset="0.0"/>
<line x1="106.0" y1="230.4" x2="199.4" y2="230.4" stroke="#ff0000" stroke-width="4.5"/>
<line x1="199.4" y1="216.7" x2="292.8" y2="216.7" stroke="#ff0000" stroke-width="4.5"/>
<line x1="292.8" y1="175.3" x2="386.3" y2="175.3" stroke="#ff0000" stroke-width="4.5"/>
<line x1="386.3" y1="128.7" x2="479.7" y2="128.7" stroke="#ff0000" stroke-width="4.5"/>
<line x1="479.7" y1="174.0" x2="573.1" y2="174.0" stroke="#ff0000" stroke-width="4.5"/>
<line x1="106.0" y1="348.4" x2="199.4" y2="348.4" stroke="#0000ff" stroke-width="4.5"/>
<line x1="199.4" y1="446.4" x2="292.8" y2="446.4" stroke="#0000ff" stroke-width="4.5"/>
<line x1="292.8" y1="457.2" x2="386.3" y2="457.2" stroke="#0000ff" stroke-width="4.5"/>
<line x1="386.3" y1="380.5" x2="479.7" y2="380.5" stroke="#0000ff" stroke-width="4.5"/>
<line x1="479.7" y1="403.3" x2="573.1" y2="403.3" stroke="#0000ff" stroke-width="4.5"/>
</g>
<rect x="106.0" y="50.6" width="467.1" height="471.5" fill="none" stroke="#000" stroke-width="1.45"/>
<line x1="106.0" y1="522.1" x2="106.0" y2="530.1" stroke="#000" stroke-width="1.45"/>
<text transform="translate(105.0,560.1) scale(1,1.100)" font-size="30.6" text-anchor="middle">09/05</text>
<line x1="199.4" y1="522.1" x2="199.4" y2="530.1" stroke="#000" stroke-width="1.45"/>
<text transform="translate(198.4,560.1) scale(1,1.100)" font-size="30.6" text-anchor="middle">10/05</text>
<line x1="292.8" y1="522.1" x2="292.8" y2="530.1" stroke="#000" stroke-width="1.45"/>
<text transform="translate(291.8,560.1) scale(1,1.100)" font-size="30.6" text-anchor="middle">11/05</text>
<line x1="386.3" y1="522.1" x2="386.3" y2="530.1" stroke="#000" stroke-width="1.45"/>
<text transform="translate(385.3,560.1) scale(1,1.100)" font-size="30.6" text-anchor="middle">12/05</text>
<line x1="479.7" y1="522.1" x2="479.7" y2="530.1" stroke="#000" stroke-width="1.45"/>
<text transform="translate(478.7,560.1) scale(1,1.100)" font-size="30.6" text-anchor="middle">13/05</text>
<line x1="573.1" y1="522.1" x2="573.1" y2="530.1" stroke="#000" stroke-width="1.45"/>
<text transform="translate(572.1,560.1) scale(1,1.100)" font-size="30.6" text-anchor="middle">14/05</text>
<line x1="98.0" y1="84.2" x2="106.0" y2="84.2" stroke="#000" stroke-width="1.45"/>
<text transform="translate(89.7,96.6) scale(1,1.100)" font-size="30.6" text-anchor="end">30</text>
<line x1="98.0" y1="186.2" x2="106.0" y2="186.2" stroke="#000" stroke-width="1.45"/>
<text transform="translate(89.7,198.6) scale(1,1.100)" font-size="30.6" text-anchor="end">15</text>
<line x1="98.0" y1="287.2" x2="106.0" y2="287.2" stroke="#000" stroke-width="1.45"/>
<text transform="translate(89.7,299.6) scale(1,1.100)" font-size="30.6" text-anchor="end">0</text>
<line x1="98.0" y1="388.3" x2="106.0" y2="388.3" stroke="#000" stroke-width="1.45"/>
<text transform="translate(89.7,400.7) scale(1,1.100)" font-size="30.6" text-anchor="end">15</text>
<line x1="98.0" y1="489.2" x2="106.0" y2="489.2" stroke="#000" stroke-width="1.45"/>
<text transform="translate(89.7,501.6) scale(1,1.100)" font-size="30.6" text-anchor="end">30</text>
<text transform="translate(339.6,37.8) scale(1,1.070)" font-size="31.6" text-anchor="middle">105 km</text>
<text transform="translate(337.6,600.0) scale(1,1.030)" font-size="31.8" text-anchor="middle">Date (dd/mm)</text>
<text transform="translate(124.0,95.0) scale(1,1.050)" font-size="23.4">(a)</text>
</g>
<g id="panel1">
<clipPath id="clip1"><rect x="643.1" y="50.6" width="467.0" height="471.5"/></clipPath>
<g clip-path="url(#clip1)">
<circle cx="644.8" cy="383.7" r="4.85" fill="#2f79b6"/>
<circle cx="650.0" cy="211.3" r="4.85" fill="#e27b61"/>
<circle cx="650.0" cy="220.4" r="4.85" fill="#ec9374"/>
<circle cx="650.0" cy="230.1" r="4.85" fill="#f5ab89"/>
<circle cx="650.0" cy="340.2" r="4.85" fill="#8cc1dc"/>
<circle cx="650.0" cy="351.2" r="4.85" fill="#6eaed2"/>
<circle cx="650.0" cy="369.4" r="4.85" fill="#408fc1"/>
<circle cx="656.5" cy="208.0" r="4.85" fill="#de725b"/>
<circle cx="656.5" cy="215.8" r="4.85" fill="#e7876b"/>
<circle cx="656.5" cy="231.4" r="4.85" fill="#f5ad8c"/>
<circle cx="656.5" cy="336.9" r="4.85" fill="#95c6df"/>
<circle cx="656.5" cy="361.6" r="4.85" fill="#529cc8"/>
<circle cx="662.4" cy="95.8" r="4.85" fill="#67001f"/>
<circle cx="662.4" cy="217.8" r="4.85" fill="#e98c6f"/>
<circle cx="662.4" cy="224.9" r="4.85" fill="#f19f7d"/>
<circle cx="662.4" cy="366.8" r="4.85" fill="#4493c3"/>
<circle cx="663.0" cy="355.1" r="4.85" fill="#64a8ce"/>
<circle cx="668.2" cy="216.5" r="4.85" fill="#e8886c"/>
<circle cx="668.2" cy="232.1" r="4.85" fill="#f5ae8d"/>
<circle cx="668.9" cy="339.5" r="4.85" fill="#8ec3dd"/>
<circle cx="668.9" cy="345.4" r="4.85" fill="#7eb8d7"/>
<circle cx="668.9" cy="359.0" r="4.85" fill="#59a1cb"/>
<circle cx="668.9" cy="381.8" r="4.85" fill="#327cb7"/>
<circle cx="668.9" cy="387.6" r="4.85" fill="#2b73b3"/>
<circle cx="668.9" cy="400.0" r="4.85" fill="#1d5fa2"/>
<circle cx="674.5" cy="174.9" r="4.85" fill="#b1182b"/>
<circle cx="674.7" cy="214.5" r="4.85" fill="#e58368"/>
<circle cx="674.7" cy="229.5" r="4.85" fill="#f5aa88"/>
<circle cx="675.4" cy="355.8" r="4.85" fill="#62a6ce"/>
<circle cx="675.8" cy="419.3" r="4.85" fill="#0d3f76"/>
<circle cx="680.6" cy="349.9" r="4.85" fill="#72b1d3"/>
<circle cx="681.2" cy="164.5" r="4.85" fill="#930e26"/>
<circle cx="681.2" cy="207.8" r="4.85" fill="#de715a"/>
<circle cx="681.2" cy="218.4" r="4.85" fill="#ea8d70"/>
<circle cx="681.2" cy="357.1" r="4.85" fill="#5ea4cc"/>
<circle cx="681.2" cy="386.1" r="4.85" fill="#2d75b4"/>
<circle cx="681.9" cy="232.7" r="4.85" fill="#f6af8e"/>
<circle cx="687.7" cy="199.9" r="4.85" fill="#d45c4b"/>
<circle cx="687.7" cy="379.2" r="4.85" fill="#3580b9"/>
<circle cx="694.2" cy="366.2" r="4.85" fill="#4594c4"/>
<circle cx="694.2" cy="377.2" r="4.85" fill="#3783bb"/>
<circle cx="699.4" cy="205.2" r="4.85" fill="#db6a55"/>
<circle cx="699.4" cy="350.8" r="4.85" fill="#6fafd2"/>
<circle cx="700.1" cy="215.8" r="4.85" fill="#e7876b"/>
<circle cx="705.9" cy="358.0" r="4.85" fill="#5ca3cb"/>
<circle cx="706.6" cy="405.9" r="4.85" fill="#175392"/>
<circle cx="707.0" cy="199.2" r="4.85" fill="#d35a4a"/>
<circle cx="712.4" cy="372.0" r="4.85" fill="#3d8bbf"/>
<circle cx="712.4" cy="376.6" r="4.85" fill="#3884bb"/>
<circle cx="718.3" cy="351.9" r="4.85" fill="#6cadd1"/>
<circle cx="718.3" cy="385.7" r="4.85" fill="#2d76b4"/>
<circle cx="718.3" cy="396.1" r="4.85" fill="#2166ac"/>
<circle cx="719.0" cy="357.7" r="4.85" fill="#5da3cc"/>
<circle cx="719.0" cy="375.9" r="4.85" fill="#3985bc"/>
<circle cx="725.5" cy="349.9" r="4.85" fill="#72b1d3"/>
<circle cx="725.5" cy="361.6" r="4.85" fill="#529cc8"/>
<circle cx="731.3" cy="347.3" r="4.85" fill="#79b5d5"/>
<circle cx="731.3" cy="351.9" r="4.85" fill="#6cadd1"/>
<circle cx="737.8" cy="209.3" r="4.85" fill="#df755d"/>
<circle cx="738.1" cy="180.1" r="4.85" fill="#b92631"/>
<circle cx="738.5" cy="195.7" r="4.85" fill="#ce5146"/>
<circle cx="738.5" cy="384.4" r="4.85" fill="#2f78b5"/>
<circle cx="743.4" cy="369.8" r="4.85" fill="#408fc1"/>
<circle cx="743.7" cy="388.3" r="4.85" fill="#2a72b2"/>
<circle cx="744.3" cy="161.2" r="4.85" fill="#8a0b25"/>
<circle cx="745.0" cy="193.7" r="4.85" fill="#cc4b43"/>
<circle cx="749.5" cy="219.1" r="4.85" fill="#eb8f71"/>
<circle cx="749.5" cy="339.8" r="4.85" fill="#8dc2dc"/>
<circle cx="749.5" cy="379.6" r="4.85" fill="#347fb9"/>
<circle cx="750.2" cy="399.3" r="4.85" fill="#1e60a3"/>
<circle cx="750.8" cy="230.1" r="4.85" fill="#f5ab89"/>
<circle cx="756.0" cy="345.4" r="4.85" fill="#7eb8d7"/>
<circle cx="762.5" cy="208.7" r="4.85" fill="#df745c"/>
<circle cx="762.5" cy="224.9" r="4.85" fill="#f19f7d"/>
<circle cx="762.5" cy="348.0" r="4.85" fill="#77b4d5"/>
<circle cx="763.2" cy="385.7" r="4.85" fill="#2d76b4"/>
<circle cx="768.4" cy="396.7" r="4.85" fill="#2065aa"/>
<circle cx="769.0" cy="199.6" r="4.85" fill="#d45b4b"/>
<circle cx="769.0" cy="204.8" r="4.85" fill="#da6954"/>
<circle cx="769.0" cy="340.2" r="4.85" fill="#8cc1dc"/>
<circle cx="769.7" cy="232.1" r="4.85" fill="#f5ae8d"/>
<circle cx="769.7" cy="354.5" r="4.85" fill="#65a9cf"/>
<circle cx="769.7" cy="361.6" r="4.85" fill="#529cc8"/>
<circle cx="774.9" cy="181.0" r="4.85" fill="#ba2833"/>
<circle cx="774.9" cy="221.0" r="4.85" fill="#ed9475"/>
<circle cx="774.9" cy="360.3" r="4.85" fill="#559fc9"/>
<circle cx="775.5" cy="342.8" r="4.85" fill="#85bdda"/>
<circle cx="775.5" cy="346.7" r="4.85" fill="#7bb6d6"/>
<circle cx="775.5" cy="368.1" r="4.85" fill="#4291c2"/>
<circle cx="781.4" cy="214.5" r="4.85" fill="#e58368"/>
<circle cx="781.4" cy="224.9" r="4.85" fill="#f19f7d"/>
<circle cx="782.0" cy="193.5" r="4.85" fill="#cb4b43"/>
<circle cx="782.0" cy="205.4" r="4.85" fill="#db6b55"/>
<circle cx="787.2" cy="406.9" r="4.85" fill="#165290"/>
<circle cx="787.2" cy="418.0" r="4.85" fill="#0e4178"/>
<circle cx="787.9" cy="221.7" r="4.85" fill="#ee9677"/>
<circle cx="787.9" cy="347.3" r="4.85" fill="#79b5d5"/>
<circle cx="787.9" cy="355.8" r="4.85" fill="#62a6ce"/>
<circle cx="787.9" cy="372.0" r="4.85" fill="#3d8bbf"/>
<circle cx="787.9" cy="381.1" r="4.85" fill="#327db8"/>
<circle cx="787.9" cy="386.3" r="4.85" fill="#2c75b4"/>
<circle cx="793.7" cy="184.0" r="4.85" fill="#be3037"/>
<circle cx="793.7" cy="218.4" r="4.85" fill="#ea8d70"/>
<circle cx="794.4" cy="204.1" r="4.85" fill="#d96853"/>
<circle cx="794.4" cy="349.9" r="4.85" fill="#72b1d3"/>
<circle cx="794.4" cy="368.1" r="4.85" fill="#4291c2"/>
<circle cx="794.4" cy="381.8" r="4.85" fill="#327cb7"/>
<circle cx="794.4" cy="394.8" r="4.85" fill="#2268ad"/>
<circle cx="796.3" cy="189.2" r="4.85" fill="#c53f3d"/>
<circle cx="800.3" cy="176.6" r="4.85" fill="#b41c2d"/>
<circle cx="800.3" cy="406.3" r="4.85" fill="#175391"/>
<circle cx="800.3" cy="419.3" r="4.85" fill="#0d3f76"/>
<circle cx="800.3" cy="428.4" r="4.85" fill="#063264"/>
<circle cx="800.9" cy="208.0" r="4.85" fill="#de725b"/>
<circle cx="800.9" cy="355.1" r="4.85" fill="#64a8ce"/>
<circle cx="800.9" cy="366.8" r="4.85" fill="#4493c3"/>
<circle cx="801.6" cy="193.7" r="4.85" fill="#cc4b43"/>
<circle cx="806.1" cy="229.9" r="4.85" fill="#f5aa89"/>
<circle cx="806.4" cy="183.1" r="4.85" fill="#bd2e35"/>
<circle cx="807.4" cy="357.7" r="4.85" fill="#5da3cc"/>
<circle cx="807.4" cy="372.0" r="4.85" fill="#3d8bbf"/>
<circle cx="812.3" cy="57.5" r="4.85" fill="#67001f"/>
<circle cx="812.3" cy="84.1" r="4.85" fill="#67001f"/>
<circle cx="812.3" cy="147.6" r="4.85" fill="#6f0220"/>
<circle cx="812.6" cy="216.5" r="4.85" fill="#e8886c"/>
<circle cx="812.6" cy="349.9" r="4.85" fill="#72b1d3"/>
<circle cx="812.6" cy="374.6" r="4.85" fill="#3a87bd"/>
<circle cx="812.6" cy="390.2" r="4.85" fill="#286fb1"/>
<circle cx="812.6" cy="394.8" r="4.85" fill="#2268ad"/>
<circle cx="813.3" cy="403.7" r="4.85" fill="#1a5898"/>
<circle cx="813.3" cy="446.2" r="4.85" fill="#053061"/>
<circle cx="819.1" cy="201.5" r="4.85" fill="#d6614e"/>
<circle cx="819.1" cy="206.7" r="4.85" fill="#dc6e58"/>
<circle cx="819.1" cy="223.0" r="4.85" fill="#ef9a79"/>
<circle cx="819.1" cy="346.0" r="4.85" fill="#7db7d7"/>
<circle cx="819.1" cy="364.2" r="4.85" fill="#4b98c6"/>
<circle cx="819.1" cy="374.6" r="4.85" fill="#3a87bd"/>
<circle cx="819.1" cy="383.7" r="4.85" fill="#2f79b6"/>
<circle cx="819.8" cy="453.7" r="4.85" fill="#053061"/>
<circle cx="819.8" cy="457.6" r="4.85" fill="#053061"/>
<circle cx="824.3" cy="369.4" r="4.85" fill="#408fc1"/>
<circle cx="824.3" cy="398.0" r="4.85" fill="#1f62a7"/>
<circle cx="825.0" cy="217.1" r="4.85" fill="#e88a6d"/>
<circle cx="825.0" cy="348.0" r="4.85" fill="#77b4d5"/>
<circle cx="825.0" cy="416.7" r="4.85" fill="#0f437b"/>
<circle cx="825.6" cy="122.8" r="4.85" fill="#67001f"/>
<circle cx="825.6" cy="179.8" r="4.85" fill="#b82531"/>
<circle cx="825.6" cy="375.9" r="4.85" fill="#3985bc"/>
<circle cx="825.6" cy="382.4" r="4.85" fill="#317bb7"/>
<circle cx="825.6" cy="406.9" r="4.85" fill="#165290"/>
<circle cx="831.5" cy="164.5" r="4.85" fill="#930e26"/>
<circle cx="831.5" cy="206.7" r="4.85" fill="#dc6e58"/>
<circle cx="831.5" cy="220.4" r="4.85" fill="#ec9374"/>
<circle cx="831.5" cy="211.9" r="4.85" fill="#e27c63"/>
<circle cx="832.1" cy="346.0" r="4.85" fill="#7db7d7"/>
<circle cx="832.1" cy="353.8" r="4.85" fill="#67aacf"/>
<circle cx="832.1" cy="411.5" r="4.85" fill="#124a85"/>
<circle cx="837.3" cy="348.6" r="4.85" fill="#75b3d4"/>
<circle cx="837.3" cy="364.2" r="4.85" fill="#4b98c6"/>
<circle cx="837.3" cy="378.5" r="4.85" fill="#3681ba"/>
<circle cx="843.8" cy="352.5" r="4.85" fill="#6bacd1"/>
<circle cx="843.8" cy="359.0" r="4.85" fill="#59a1cb"/>
<circle cx="843.8" cy="366.8" r="4.85" fill="#4493c3"/>
<circle cx="843.8" cy="372.0" r="4.85" fill="#3d8bbf"/>
<circle cx="843.8" cy="379.8" r="4.85" fill="#347fb9"/>
<circle cx="844.5" cy="210.0" r="4.85" fill="#e0775f"/>
<circle cx="845.1" cy="198.3" r="4.85" fill="#d25849"/>
<circle cx="850.3" cy="192.7" r="4.85" fill="#ca4842"/>
<circle cx="850.3" cy="359.0" r="4.85" fill="#59a1cb"/>
<circle cx="850.3" cy="365.5" r="4.85" fill="#4796c4"/>
<circle cx="850.3" cy="374.6" r="4.85" fill="#3a87bd"/>
<circle cx="850.3" cy="381.1" r="4.85" fill="#327db8"/>
<circle cx="850.3" cy="387.0" r="4.85" fill="#2c74b3"/>
<circle cx="850.3" cy="439.4" r="4.85" fill="#053061"/>
<circle cx="851.0" cy="158.9" r="4.85" fill="#850a24"/>
<circle cx="851.0" cy="229.1" r="4.85" fill="#f5a987"/>
<circle cx="856.2" cy="450.5" r="4.85" fill="#053061"/>
<circle cx="856.8" cy="206.7" r="4.85" fill="#dc6e58"/>
<circle cx="856.8" cy="344.7" r="4.85" fill="#80bad8"/>
<circle cx="856.8" cy="405.0" r="4.85" fill="#185595"/>
<circle cx="856.8" cy="440.1" r="4.85" fill="#053061"/>
<circle cx="862.0" cy="341.5" r="4.85" fill="#89bfdb"/>
<circle cx="862.0" cy="351.2" r="4.85" fill="#6eaed2"/>
<circle cx="862.7" cy="204.8" r="4.85" fill="#da6954"/>
<circle cx="863.3" cy="359.0" r="4.85" fill="#59a1cb"/>
<circle cx="863.3" cy="369.4" r="4.85" fill="#408fc1"/>
<circle cx="864.0" cy="384.4" r="4.85" fill="#2f78b5"/>
<circle cx="864.0" cy="414.7" r="4.85" fill="#10457f"/>
<circle cx="869.2" cy="222.3" r="4.85" fill="#ee9878"/>
<circle cx="869.8" cy="398.0" r="4.85" fill="#1f62a7"/>
<circle cx="869.8" cy="406.3" r="4.85" fill="#175391"/>
<circle cx="869.8" cy="437.7" r="4.85" fill="#053061"/>
<circle cx="869.8" cy="464.4" r="4.85" fill="#053061"/>
<circle cx="875.0" cy="202.8" r="4.85" fill="#d86450"/>
<circle cx="875.0" cy="218.4" r="4.85" fill="#ea8d70"/>
<circle cx="875.0" cy="352.5" r="4.85" fill="#6bacd1"/>
<circle cx="875.0" cy="359.0" r="4.85" fill="#59a1cb"/>
<circle cx="875.0" cy="365.5" r="4.85" fill="#4796c4"/>
<circle cx="875.0" cy="372.0" r="4.85" fill="#3d8bbf"/>
<circle cx="877.0" cy="203.5" r="4.85" fill="#d96652"/>
<circle cx="877.0" cy="218.4" r="4.85" fill="#ea8d70"/>
<circle cx="877.0" cy="352.5" r="4.85" fill="#6bacd1"/>
<circle cx="881.6" cy="215.2" r="4.85" fill="#e68569"/>
<circle cx="882.2" cy="349.3" r="4.85" fill="#73b2d4"/>
<circle cx="882.2" cy="377.9" r="4.85" fill="#3682ba"/>
<circle cx="888.1" cy="185.3" r="4.85" fill="#c03438"/>
<circle cx="888.1" cy="212.6" r="4.85" fill="#e37e64"/>
<circle cx="888.1" cy="355.1" r="4.85" fill="#64a8ce"/>
<circle cx="888.1" cy="384.4" r="4.85" fill="#2f78b5"/>
<circle cx="888.7" cy="375.9" r="4.85" fill="#3985bc"/>
<circle cx="893.9" cy="197.6" r="4.85" fill="#d15648"/>
<circle cx="893.9" cy="231.4" r="4.85" fill="#f5ad8c"/>
<circle cx="894.6" cy="180.1" r="4.85" fill="#b92631"/>
<circle cx="894.6" cy="207.4" r="4.85" fill="#dd705a"/>
<circle cx="894.6" cy="213.2" r="4.85" fill="#e48065"/>
<circle cx="894.6" cy="350.6" r="4.85" fill="#70afd2"/>
<circle cx="894.6" cy="381.1" r="4.85" fill="#327db8"/>
<circle cx="900.2" cy="173.6" r="4.85" fill="#ad172a"/>
<circle cx="900.4" cy="226.2" r="4.85" fill="#f3a280"/>
<circle cx="901.1" cy="350.6" r="4.85" fill="#70afd2"/>
<circle cx="901.1" cy="359.0" r="4.85" fill="#59a1cb"/>
<circle cx="901.1" cy="371.4" r="4.85" fill="#3e8cc0"/>
<circle cx="901.1" cy="391.5" r="4.85" fill="#266db0"/>
<circle cx="901.1" cy="398.0" r="4.85" fill="#1f62a7"/>
<circle cx="901.1" cy="405.6" r="4.85" fill="#185493"/>
<circle cx="906.3" cy="202.2" r="4.85" fill="#d7634f"/>
<circle cx="906.3" cy="208.0" r="4.85" fill="#de725b"/>
<circle cx="906.7" cy="421.2" r="4.85" fill="#0b3c72"/>
<circle cx="906.9" cy="222.3" r="4.85" fill="#ee9878"/>
<circle cx="907.6" cy="338.9" r="4.85" fill="#90c4dd"/>
<circle cx="907.6" cy="360.3" r="4.85" fill="#559fc9"/>
<circle cx="907.6" cy="373.3" r="4.85" fill="#3c89be"/>
<circle cx="907.6" cy="408.2" r="4.85" fill="#154f8c"/>
<circle cx="907.6" cy="458.3" r="4.85" fill="#053061"/>
<circle cx="913.4" cy="350.6" r="4.85" fill="#70afd2"/>
<circle cx="913.4" cy="365.5" r="4.85" fill="#4796c4"/>
<circle cx="913.4" cy="410.2" r="4.85" fill="#134c88"/>
<circle cx="914.1" cy="336.9" r="4.85" fill="#95c6df"/>
<circle cx="914.1" cy="377.2" r="4.85" fill="#3783bb"/>
<circle cx="918.6" cy="202.8" r="4.85" fill="#d86450"/>
<circle cx="919.3" cy="355.1" r="4.85" fill="#64a8ce"/>
<circle cx="919.3" cy="375.9" r="4.85" fill="#3985bc"/>
<circle cx="919.3" cy="382.4" r="4.85" fill="#317bb7"/>
<circle cx="919.3" cy="390.9" r="4.85" fill="#276eb0"/>
<circle cx="919.9" cy="418.0" r="4.85" fill="#0e4178"/>
<circle cx="919.9" cy="435.8" r="4.85" fill="#053061"/>
<circle cx="920.3" cy="476.4" r="4.85" fill="#053061"/>
<circle cx="920.6" cy="345.4" r="4.85" fill="#7eb8d7"/>
<circle cx="925.1" cy="176.8" r="4.85" fill="#b41d2d"/>
<circle cx="925.1" cy="345.4" r="4.85" fill="#7eb8d7"/>
<circle cx="925.1" cy="355.8" r="4.85" fill="#62a6ce"/>
<circle cx="925.8" cy="361.6" r="4.85" fill="#529cc8"/>
<circle cx="925.8" cy="383.7" r="4.85" fill="#2f79b6"/>
<circle cx="925.8" cy="388.9" r="4.85" fill="#2971b2"/>
<circle cx="926.4" cy="400.0" r="4.85" fill="#1d5fa2"/>
<circle cx="926.4" cy="402.4" r="4.85" fill="#1b5a9b"/>
<circle cx="931.4" cy="135.9" r="4.85" fill="#67001f"/>
<circle cx="931.6" cy="220.8" r="4.85" fill="#ed9475"/>
<circle cx="931.6" cy="346.7" r="4.85" fill="#7bb6d6"/>
<circle cx="931.6" cy="369.4" r="4.85" fill="#408fc1"/>
<circle cx="931.6" cy="375.9" r="4.85" fill="#3985bc"/>
<circle cx="937.5" cy="364.2" r="4.85" fill="#4b98c6"/>
<circle cx="938.1" cy="358.4" r="4.85" fill="#5ba2cb"/>
<circle cx="938.1" cy="370.1" r="4.85" fill="#3f8ec1"/>
<circle cx="938.1" cy="385.0" r="4.85" fill="#2e77b5"/>
<circle cx="938.1" cy="390.9" r="4.85" fill="#276eb0"/>
<circle cx="938.1" cy="396.7" r="4.85" fill="#2065aa"/>
<circle cx="938.1" cy="436.8" r="4.85" fill="#053061"/>
<circle cx="938.8" cy="164.5" r="4.85" fill="#930e26"/>
<circle cx="944.0" cy="364.2" r="4.85" fill="#4b98c6"/>
<circle cx="944.6" cy="210.0" r="4.85" fill="#e0775f"/>
<circle cx="944.6" cy="211.9" r="4.85" fill="#e27c63"/>
<circle cx="944.6" cy="218.4" r="4.85" fill="#ea8d70"/>
<circle cx="944.6" cy="223.0" r="4.85" fill="#ef9a79"/>
<circle cx="944.6" cy="381.1" r="4.85" fill="#327db8"/>
<circle cx="944.6" cy="400.0" r="4.85" fill="#1d5fa2"/>
<circle cx="945.3" cy="231.4" r="4.85" fill="#f5ad8c"/>
<circle cx="950.5" cy="345.4" r="4.85" fill="#7eb8d7"/>
<circle cx="950.5" cy="350.6" r="4.85" fill="#70afd2"/>
<circle cx="950.5" cy="372.0" r="4.85" fill="#3d8bbf"/>
<circle cx="950.5" cy="383.7" r="4.85" fill="#2f79b6"/>
<circle cx="950.5" cy="400.0" r="4.85" fill="#1d5fa2"/>
<circle cx="950.5" cy="432.9" r="4.85" fill="#053061"/>
<circle cx="951.1" cy="150.2" r="4.85" fill="#740421"/>
<circle cx="951.1" cy="159.3" r="4.85" fill="#860a24"/>
<circle cx="951.1" cy="183.3" r="4.85" fill="#bd2e36"/>
<circle cx="951.1" cy="200.9" r="4.85" fill="#d65f4d"/>
<circle cx="951.1" cy="213.9" r="4.85" fill="#e58267"/>
<circle cx="951.4" cy="115.7" r="4.85" fill="#67001f"/>
<circle cx="956.3" cy="387.0" r="4.85" fill="#2c74b3"/>
<circle cx="957.0" cy="210.0" r="4.85" fill="#e0775f"/>
<circle cx="957.7" cy="137.2" r="4.85" fill="#67001f"/>
<circle cx="957.7" cy="161.9" r="4.85" fill="#8c0c25"/>
<circle cx="957.7" cy="175.5" r="4.85" fill="#b2192b"/>
<circle cx="957.7" cy="211.9" r="4.85" fill="#e27c63"/>
<circle cx="957.7" cy="217.8" r="4.85" fill="#e98c6f"/>
<circle cx="957.7" cy="228.2" r="4.85" fill="#f4a784"/>
<circle cx="957.7" cy="234.0" r="4.85" fill="#f6b090"/>
<circle cx="962.9" cy="191.1" r="4.85" fill="#c84440"/>
<circle cx="962.9" cy="195.0" r="4.85" fill="#cd4f45"/>
<circle cx="962.9" cy="347.3" r="4.85" fill="#79b5d5"/>
<circle cx="962.9" cy="362.3" r="4.85" fill="#509bc7"/>
<circle cx="962.9" cy="368.8" r="4.85" fill="#4190c2"/>
<circle cx="962.9" cy="400.0" r="4.85" fill="#1d5fa2"/>
<circle cx="963.5" cy="149.5" r="4.85" fill="#720421"/>
<circle cx="964.2" cy="161.2" r="4.85" fill="#8a0b25"/>
<circle cx="964.2" cy="226.2" r="4.85" fill="#f3a280"/>
<circle cx="969.4" cy="172.9" r="4.85" fill="#ab162a"/>
<circle cx="969.4" cy="177.5" r="4.85" fill="#b51e2e"/>
<circle cx="969.4" cy="193.7" r="4.85" fill="#cc4b43"/>
<circle cx="969.4" cy="200.2" r="4.85" fill="#d55d4c"/>
<circle cx="969.4" cy="350.6" r="4.85" fill="#70afd2"/>
<circle cx="969.4" cy="366.8" r="4.85" fill="#4493c3"/>
<circle cx="975.2" cy="112.2" r="4.85" fill="#67001f"/>
<circle cx="975.2" cy="354.5" r="4.85" fill="#65a9cf"/>
<circle cx="975.9" cy="181.4" r="4.85" fill="#bb2933"/>
<circle cx="975.9" cy="197.6" r="4.85" fill="#d15648"/>
<circle cx="975.9" cy="372.0" r="4.85" fill="#3d8bbf"/>
<circle cx="975.9" cy="359.0" r="4.85" fill="#59a1cb"/>
<circle cx="981.7" cy="350.6" r="4.85" fill="#70afd2"/>
<circle cx="982.4" cy="199.6" r="4.85" fill="#d45b4b"/>
<circle cx="982.4" cy="231.4" r="4.85" fill="#f5ad8c"/>
<circle cx="987.6" cy="194.8" r="4.85" fill="#cd4e45"/>
<circle cx="988.2" cy="226.9" r="4.85" fill="#f4a481"/>
<circle cx="988.2" cy="348.0" r="4.85" fill="#77b4d5"/>
<circle cx="988.2" cy="392.2" r="4.85" fill="#256caf"/>
<circle cx="988.2" cy="397.4" r="4.85" fill="#2063a8"/>
<circle cx="988.9" cy="233.4" r="4.85" fill="#f6af8f"/>
<circle cx="994.1" cy="143.7" r="4.85" fill="#67001f"/>
<circle cx="994.1" cy="154.7" r="4.85" fill="#7d0722"/>
<circle cx="994.1" cy="219.7" r="4.85" fill="#eb9173"/>
<circle cx="994.1" cy="347.3" r="4.85" fill="#79b5d5"/>
<circle cx="995.4" cy="362.3" r="4.85" fill="#509bc7"/>
<circle cx="999.9" cy="117.4" r="4.85" fill="#67001f"/>
<circle cx="999.9" cy="215.2" r="4.85" fill="#e68569"/>
<circle cx="999.9" cy="224.3" r="4.85" fill="#f19d7c"/>
<circle cx="999.9" cy="357.1" r="4.85" fill="#5ea4cc"/>
<circle cx="1006.4" cy="175.3" r="4.85" fill="#b2182b"/>
<circle cx="1006.4" cy="203.5" r="4.85" fill="#d96652"/>
<circle cx="1006.4" cy="223.0" r="4.85" fill="#ef9a79"/>
<circle cx="1007.7" cy="338.9" r="4.85" fill="#90c4dd"/>
<circle cx="1007.7" cy="372.0" r="4.85" fill="#3d8bbf"/>
<circle cx="1007.7" cy="379.8" r="4.85" fill="#347fb9"/>
<circle cx="1007.7" cy="459.6" r="4.85" fill="#053061"/>
<circle cx="1007.7" cy="466.1" r="4.85" fill="#053061"/>
<circle cx="1013.6" cy="346.0" r="4.85" fill="#7db7d7"/>
<circle cx="1013.6" cy="352.5" r="4.85" fill="#6bacd1"/>
<circle cx="1013.6" cy="359.0" r="4.85" fill="#59a1cb"/>
<circle cx="1013.6" cy="365.5" r="4.85" fill="#4796c4"/>
<circle cx="1013.6" cy="373.3" r="4.85" fill="#3c89be"/>
<circle cx="1013.6" cy="410.2" r="4.85" fill="#134c88"/>
<circle cx="1013.6" cy="428.4" r="4.85" fill="#063264"/>
<circle cx="1019.4" cy="385.7" r="4.85" fill="#2d76b4"/>
<circle cx="1019.4" cy="406.3" r="4.85" fill="#175391"/>
<circle cx="1019.4" cy="443.6" r="4.85" fill="#053061"/>
<circle cx="1019.6" cy="489.4" r="4.85" fill="#053061"/>
<circle cx="1020.1" cy="232.1" r="4.85" fill="#f5ae8d"/>
<circle cx="1020.1" cy="351.9" r="4.85" fill="#6cadd1"/>
<circle cx="1020.1" cy="359.0" r="4.85" fill="#59a1cb"/>
<circle cx="1020.1" cy="365.5" r="4.85" fill="#4796c4"/>
<circle cx="1025.9" cy="219.1" r="4.85" fill="#eb8f71"/>
<circle cx="1025.9" cy="225.6" r="4.85" fill="#f2a07f"/>
<circle cx="1025.9" cy="381.1" r="4.85" fill="#327db8"/>
<circle cx="1025.9" cy="396.1" r="4.85" fill="#2166ac"/>
<circle cx="1026.6" cy="192.2" r="4.85" fill="#ca4741"/>
<circle cx="1026.6" cy="230.1" r="4.85" fill="#f5ab89"/>
<circle cx="1026.6" cy="351.9" r="4.85" fill="#6cadd1"/>
<circle cx="1026.6" cy="359.0" r="4.85" fill="#59a1cb"/>
<circle cx="1032.4" cy="197.6" r="4.85" fill="#d15648"/>
<circle cx="1032.4" cy="397.4" r="4.85" fill="#2063a8"/>
<circle cx="1032.8" cy="127.0" r="4.85" fill="#67001f"/>
<circle cx="1038.3" cy="211.9" r="4.85" fill="#e27c63"/>
<circle cx="1038.3" cy="222.3" r="4.85" fill="#ee9878"/>
<circle cx="1038.3" cy="344.7" r="4.85" fill="#80bad8"/>
<circle cx="1038.3" cy="356.4" r="4.85" fill="#60a5cd"/>
<circle cx="1038.3" cy="373.3" r="4.85" fill="#3c89be"/>
<circle cx="1038.3" cy="443.6" r="4.85" fill="#053061"/>
<circle cx="1039.0" cy="187.2" r="4.85" fill="#c3393b"/>
<circle cx="1044.2" cy="344.1" r="4.85" fill="#82bbd8"/>
<circle cx="1044.2" cy="396.1" r="4.85" fill="#2166ac"/>
<circle cx="1044.8" cy="359.0" r="4.85" fill="#59a1cb"/>
<circle cx="1044.8" cy="404.3" r="4.85" fill="#195696"/>
<circle cx="1045.5" cy="174.9" r="4.85" fill="#b1182b"/>
<circle cx="1045.5" cy="201.5" r="4.85" fill="#d6614e"/>
<circle cx="1045.5" cy="219.1" r="4.85" fill="#eb8f71"/>
<circle cx="1050.7" cy="381.1" r="4.85" fill="#327db8"/>
<circle cx="1050.7" cy="397.4" r="4.85" fill="#2063a8"/>
<circle cx="1050.7" cy="400.4" r="4.85" fill="#1d5ea1"/>
<circle cx="1051.3" cy="115.4" r="4.85" fill="#67001f"/>
<circle cx="1051.3" cy="133.9" r="4.85" fill="#67001f"/>
<circle cx="1051.3" cy="187.2" r="4.85" fill="#c3393b"/>
<circle cx="1051.3" cy="193.7" r="4.85" fill="#cc4b43"/>
<circle cx="1051.3" cy="198.9" r="4.85" fill="#d35a4a"/>
<circle cx="1051.3" cy="353.8" r="4.85" fill="#67aacf"/>
<circle cx="1052.0" cy="221.7" r="4.85" fill="#ee9677"/>
<circle cx="1056.5" cy="345.4" r="4.85" fill="#7eb8d7"/>
<circle cx="1057.2" cy="175.5" r="4.85" fill="#b2192b"/>
<circle cx="1057.2" cy="385.7" r="4.85" fill="#2d76b4"/>
<circle cx="1057.2" cy="407.6" r="4.85" fill="#16508e"/>
<circle cx="1057.8" cy="156.0" r="4.85" fill="#7f0823"/>
<circle cx="1057.8" cy="189.2" r="4.85" fill="#c53f3d"/>
<circle cx="1057.8" cy="206.7" r="4.85" fill="#dc6e58"/>
<circle cx="1057.8" cy="211.3" r="4.85" fill="#e27b61"/>
<circle cx="1057.8" cy="339.5" r="4.85" fill="#8ec3dd"/>
<circle cx="1057.8" cy="352.5" r="4.85" fill="#6bacd1"/>
<circle cx="1057.8" cy="359.0" r="4.85" fill="#59a1cb"/>
<circle cx="1063.7" cy="185.9" r="4.85" fill="#c13639"/>
<circle cx="1063.7" cy="200.9" r="4.85" fill="#d65f4d"/>
<circle cx="1063.7" cy="208.0" r="4.85" fill="#de725b"/>
<circle cx="1063.7" cy="220.4" r="4.85" fill="#ec9374"/>
<circle cx="1063.7" cy="358.4" r="4.85" fill="#5ba2cb"/>
<circle cx="1063.7" cy="375.9" r="4.85" fill="#3985bc"/>
<circle cx="1069.5" cy="177.5" r="4.85" fill="#b51e2e"/>
<circle cx="1069.5" cy="199.6" r="4.85" fill="#d45b4b"/>
<circle cx="1069.5" cy="351.2" r="4.85" fill="#6eaed2"/>
<circle cx="1070.2" cy="212.6" r="4.85" fill="#e37e64"/>
<circle cx="1070.8" cy="399.3" r="4.85" fill="#1e60a3"/>
<circle cx="1076.0" cy="215.8" r="4.85" fill="#e7876b"/>
<circle cx="1076.0" cy="354.5" r="4.85" fill="#65a9cf"/>
<circle cx="1076.0" cy="361.6" r="4.85" fill="#529cc8"/>
<circle cx="1076.0" cy="366.8" r="4.85" fill="#4493c3"/>
<circle cx="1076.0" cy="402.4" r="4.85" fill="#1b5a9b"/>
<circle cx="1076.7" cy="170.3" r="4.85" fill="#a41429"/>
<circle cx="1076.9" cy="124.4" r="4.85" fill="#67001f"/>
<circle cx="1076.9" cy="132.9" r="4.85" fill="#67001f"/>
<circle cx="1081.9" cy="222.3" r="4.85" fill="#ee9878"/>
<circle cx="1082.5" cy="172.9" r="4.85" fill="#ab162a"/>
<circle cx="1082.5" cy="182.0" r="4.85" fill="#bb2b34"/>
<circle cx="1082.5" cy="347.3" r="4.85" fill="#79b5d5"/>
<circle cx="1082.5" cy="361.6" r="4.85" fill="#529cc8"/>
<circle cx="1082.5" cy="368.1" r="4.85" fill="#4291c2"/>
<circle cx="1082.5" cy="375.9" r="4.85" fill="#3985bc"/>
<circle cx="1083.2" cy="234.7" r="4.85" fill="#f6b191"/>
<circle cx="1087.7" cy="193.5" r="4.85" fill="#cb4b43"/>
<circle cx="1087.7" cy="208.0" r="4.85" fill="#de725b"/>
<circle cx="1087.7" cy="218.4" r="4.85" fill="#ea8d70"/>
<circle cx="1088.4" cy="169.7" r="4.85" fill="#a21328"/>
<circle cx="1088.4" cy="181.4" r="4.85" fill="#bb2933"/>
<circle cx="1088.4" cy="346.7" r="4.85" fill="#7bb6d6"/>
<circle cx="1089.0" cy="370.7" r="4.85" fill="#3f8dc0"/>
<circle cx="1089.0" cy="378.5" r="4.85" fill="#3681ba"/>
<circle cx="1089.0" cy="391.5" r="4.85" fill="#266db0"/>
<circle cx="1095.5" cy="354.5" r="4.85" fill="#65a9cf"/>
<circle cx="1095.5" cy="388.9" r="4.85" fill="#2971b2"/>
<circle cx="1095.5" cy="396.7" r="4.85" fill="#2065aa"/>
<circle cx="1100.7" cy="165.8" r="4.85" fill="#970f27"/>
<circle cx="1100.7" cy="174.9" r="4.85" fill="#b1182b"/>
<circle cx="1100.7" cy="217.4" r="4.85" fill="#e98b6e"/>
<circle cx="1101.4" cy="377.9" r="4.85" fill="#3682ba"/>
<circle cx="1102.0" cy="340.2" r="4.85" fill="#8cc1dc"/>
<circle cx="1102.0" cy="348.0" r="4.85" fill="#77b4d5"/>
<circle cx="1102.0" cy="356.4" r="4.85" fill="#60a5cd"/>
<circle cx="1106.6" cy="203.5" r="4.85" fill="#d96652"/>
<circle cx="1106.6" cy="213.2" r="4.85" fill="#e48065"/>
<circle cx="1106.6" cy="365.5" r="4.85" fill="#4796c4"/>
<circle cx="1107.9" cy="338.2" r="4.85" fill="#92c5de"/>
<circle cx="1107.9" cy="359.0" r="4.85" fill="#59a1cb"/>
<circle cx="1107.9" cy="383.7" r="4.85" fill="#2f79b6"/>
<circle cx="1107.9" cy="391.5" r="4.85" fill="#266db0"/>
<circle cx="1107.9" cy="398.0" r="4.85" fill="#1f62a7"/>
<circle cx="1107.9" cy="404.3" r="4.85" fill="#195696"/>
<line x1="801.4" y1="522.1" x2="801.4" y2="50.6" stroke="#1572b7" stroke-width="2.7" stroke-dasharray="11.6 5.32" stroke-dashoffset="0.0"/>
<line x1="836.8" y1="522.1" x2="836.8" y2="50.6" stroke="#1572b7" stroke-width="2.7" stroke-dasharray="11.6 5.32" stroke-dashoffset="0.0"/>
<line x1="1003.3" y1="522.1" x2="1003.3" y2="50.6" stroke="#666666" stroke-width="2.4" stroke-dasharray="11.6 5.32" stroke-dashoffset="0.0"/>
<line x1="1038.6" y1="522.1" x2="1038.6" y2="50.6" stroke="#666666" stroke-width="2.4" stroke-dasharray="11.6 5.32" stroke-dashoffset="0.0"/>
<line x1="643.1" y1="239.6" x2="736.5" y2="239.6" stroke="#ff0000" stroke-width="4.5"/>
<line x1="736.5" y1="201.3" x2="829.9" y2="201.3" stroke="#ff0000" stroke-width="4.5"/>
<line x1="829.9" y1="230.4" x2="923.3" y2="230.4" stroke="#ff0000" stroke-width="4.5"/>
<line x1="923.3" y1="183.1" x2="1016.7" y2="183.1" stroke="#ff0000" stroke-width="4.5"/>
<line x1="1016.7" y1="183.1" x2="1110.1" y2="183.1" stroke="#ff0000" stroke-width="4.5"/>
<line x1="643.1" y1="368.4" x2="736.5" y2="368.4" stroke="#0000ff" stroke-width="4.5"/>
<line x1="736.5" y1="412.8" x2="829.9" y2="412.8" stroke="#0000ff" stroke-width="4.5"/>
<line x1="829.9" y1="458.6" x2="923.3" y2="458.6" stroke="#0000ff" stroke-width="4.5"/>
<line x1="923.3" y1="432.3" x2="1016.7" y2="432.3" stroke="#0000ff" stroke-width="4.5"/>
<line x1="1016.7" y1="435.8" x2="1110.1" y2="435.8" stroke="#0000ff" stroke-width="4.5"/>
</g>
<rect x="643.1" y="50.6" width="467.0" height="471.5" fill="none" stroke="#000" stroke-width="1.45"/>
<line x1="643.1" y1="522.1" x2="643.1" y2="530.1" stroke="#000" stroke-width="1.45"/>
<text transform="translate(642.1,560.1) scale(1,1.100)" font-size="30.6" text-anchor="middle">09/05</text>
<line x1="736.5" y1="522.1" x2="736.5" y2="530.1" stroke="#000" stroke-width="1.45"/>
<text transform="translate(735.5,560.1) scale(1,1.100)" font-size="30.6" text-anchor="middle">10/05</text>
<line x1="829.9" y1="522.1" x2="829.9" y2="530.1" stroke="#000" stroke-width="1.45"/>
<text transform="translate(828.9,560.1) scale(1,1.100)" font-size="30.6" text-anchor="middle">11/05</text>
<line x1="923.3" y1="522.1" x2="923.3" y2="530.1" stroke="#000" stroke-width="1.45"/>
<text transform="translate(922.3,560.1) scale(1,1.100)" font-size="30.6" text-anchor="middle">12/05</text>
<line x1="1016.7" y1="522.1" x2="1016.7" y2="530.1" stroke="#000" stroke-width="1.45"/>
<text transform="translate(1015.7,560.1) scale(1,1.100)" font-size="30.6" text-anchor="middle">13/05</text>
<line x1="1110.1" y1="522.1" x2="1110.1" y2="530.1" stroke="#000" stroke-width="1.45"/>
<text transform="translate(1109.1,560.1) scale(1,1.100)" font-size="30.6" text-anchor="middle">14/05</text>
<line x1="635.1" y1="84.2" x2="643.1" y2="84.2" stroke="#000" stroke-width="1.45"/>
<line x1="635.1" y1="186.2" x2="643.1" y2="186.2" stroke="#000" stroke-width="1.45"/>
<line x1="635.1" y1="287.2" x2="643.1" y2="287.2" stroke="#000" stroke-width="1.45"/>
<line x1="635.1" y1="388.3" x2="643.1" y2="388.3" stroke="#000" stroke-width="1.45"/>
<line x1="635.1" y1="489.2" x2="643.1" y2="489.2" stroke="#000" stroke-width="1.45"/>
<text transform="translate(876.6,37.8) scale(1,1.070)" font-size="31.6" text-anchor="middle">100 km</text>
<text transform="translate(874.6,600.0) scale(1,1.030)" font-size="31.8" text-anchor="middle">Date (dd/mm)</text>
<text transform="translate(661.1,95.0) scale(1,1.050)" font-size="23.4">(b)</text>
</g>
<g id="panel2">
<clipPath id="clip2"><rect x="1180.5" y="50.6" width="467.6" height="471.5"/></clipPath>
<g clip-path="url(#clip2)">
<circle cx="1182.2" cy="242.5" r="4.85" fill="#f8bb9e"/>
<circle cx="1182.2" cy="354.2" r="4.85" fill="#66a9cf"/>
<circle cx="1187.4" cy="334.7" r="4.85" fill="#99c9e0"/>
<circle cx="1187.4" cy="339.9" r="4.85" fill="#8dc2dc"/>
<circle cx="1193.9" cy="335.4" r="4.85" fill="#98c8e0"/>
<circle cx="1193.9" cy="340.6" r="4.85" fill="#8bc1dc"/>
<circle cx="1194.5" cy="239.9" r="4.85" fill="#f7b89a"/>
<circle cx="1199.7" cy="221.0" r="4.85" fill="#ed9475"/>
<circle cx="1199.7" cy="240.5" r="4.85" fill="#f7b89b"/>
<circle cx="1201.0" cy="235.3" r="4.85" fill="#f6b292"/>
<circle cx="1205.6" cy="330.6" r="4.85" fill="#a2cde3"/>
<circle cx="1206.0" cy="370.5" r="4.85" fill="#3f8ec0"/>
<circle cx="1206.2" cy="221.0" r="4.85" fill="#ed9475"/>
<circle cx="1206.2" cy="233.4" r="4.85" fill="#f6af8f"/>
<circle cx="1212.7" cy="234.0" r="4.85" fill="#f6b090"/>
<circle cx="1212.7" cy="351.6" r="4.85" fill="#6daed1"/>
<circle cx="1212.7" cy="362.0" r="4.85" fill="#519cc8"/>
<circle cx="1218.6" cy="219.1" r="4.85" fill="#eb8f71"/>
<circle cx="1218.6" cy="224.9" r="4.85" fill="#f19f7d"/>
<circle cx="1218.6" cy="230.1" r="4.85" fill="#f5ab89"/>
<circle cx="1224.4" cy="241.8" r="4.85" fill="#f7ba9d"/>
<circle cx="1224.4" cy="336.0" r="4.85" fill="#97c7df"/>
<circle cx="1230.9" cy="228.8" r="4.85" fill="#f5a886"/>
<circle cx="1230.9" cy="327.6" r="4.85" fill="#a9d1e5"/>
<circle cx="1230.9" cy="363.6" r="4.85" fill="#4c99c6"/>
<circle cx="1231.6" cy="338.0" r="4.85" fill="#92c5de"/>
<circle cx="1236.8" cy="212.2" r="4.85" fill="#e37d63"/>
<circle cx="1237.4" cy="228.2" r="4.85" fill="#f4a784"/>
<circle cx="1237.4" cy="330.8" r="4.85" fill="#a2cde3"/>
<circle cx="1237.4" cy="338.0" r="4.85" fill="#92c5de"/>
<circle cx="1243.3" cy="240.5" r="4.85" fill="#f7b89b"/>
<circle cx="1243.9" cy="221.7" r="4.85" fill="#ee9677"/>
<circle cx="1243.9" cy="330.8" r="4.85" fill="#a2cde3"/>
<circle cx="1243.9" cy="352.3" r="4.85" fill="#6badd1"/>
<circle cx="1249.8" cy="332.8" r="4.85" fill="#9ecbe1"/>
<circle cx="1249.8" cy="356.8" r="4.85" fill="#5fa5cd"/>
<circle cx="1250.4" cy="338.6" r="4.85" fill="#91c4de"/>
<circle cx="1255.9" cy="394.7" r="4.85" fill="#2368ad"/>
<circle cx="1256.3" cy="341.2" r="4.85" fill="#8ac0db"/>
<circle cx="1256.3" cy="349.0" r="4.85" fill="#74b2d4"/>
<circle cx="1256.6" cy="200.0" r="4.85" fill="#d45d4b"/>
<circle cx="1262.2" cy="342.5" r="4.85" fill="#86bdda"/>
<circle cx="1262.8" cy="190.1" r="4.85" fill="#c7413e"/>
<circle cx="1262.8" cy="229.5" r="4.85" fill="#f5aa88"/>
<circle cx="1268.7" cy="242.5" r="4.85" fill="#f8bb9e"/>
<circle cx="1268.7" cy="353.6" r="4.85" fill="#68aad0"/>
<circle cx="1275.2" cy="218.4" r="4.85" fill="#ea8d70"/>
<circle cx="1275.2" cy="336.7" r="4.85" fill="#95c7df"/>
<circle cx="1275.2" cy="340.6" r="4.85" fill="#8bc1dc"/>
<circle cx="1281.7" cy="236.6" r="4.85" fill="#f6b394"/>
<circle cx="1286.9" cy="223.0" r="4.85" fill="#ef9a79"/>
<circle cx="1287.5" cy="348.8" r="4.85" fill="#75b3d4"/>
<circle cx="1287.5" cy="370.5" r="4.85" fill="#3f8ec0"/>
<circle cx="1288.2" cy="247.3" r="4.85" fill="#f9c1a5"/>
<circle cx="1293.4" cy="227.5" r="4.85" fill="#f4a582"/>
<circle cx="1293.4" cy="234.0" r="4.85" fill="#f6b090"/>
<circle cx="1294.0" cy="360.1" r="4.85" fill="#569fc9"/>
<circle cx="1294.0" cy="367.2" r="4.85" fill="#4393c3"/>
<circle cx="1299.2" cy="330.8" r="4.85" fill="#a2cde3"/>
<circle cx="1299.9" cy="338.0" r="4.85" fill="#92c5de"/>
<circle cx="1300.5" cy="214.8" r="4.85" fill="#e68469"/>
<circle cx="1300.5" cy="357.7" r="4.85" fill="#5da3cc"/>
<circle cx="1305.7" cy="204.4" r="4.85" fill="#da6853"/>
<circle cx="1306.8" cy="181.1" r="4.85" fill="#ba2833"/>
<circle cx="1313.5" cy="325.9" r="4.85" fill="#add3e6"/>
<circle cx="1313.5" cy="347.1" r="4.85" fill="#7ab5d6"/>
<circle cx="1319.4" cy="224.9" r="4.85" fill="#f19f7d"/>
<circle cx="1319.4" cy="241.8" r="4.85" fill="#f7ba9d"/>
<circle cx="1319.4" cy="349.7" r="4.85" fill="#72b1d3"/>
<circle cx="1320.7" cy="245.7" r="4.85" fill="#f8bfa3"/>
<circle cx="1325.9" cy="198.9" r="4.85" fill="#d35a4a"/>
<circle cx="1325.9" cy="211.9" r="4.85" fill="#e27c63"/>
<circle cx="1325.9" cy="217.8" r="4.85" fill="#e98c6f"/>
<circle cx="1325.9" cy="227.5" r="4.85" fill="#f4a582"/>
<circle cx="1325.9" cy="334.1" r="4.85" fill="#9bc9e1"/>
<circle cx="1325.9" cy="355.5" r="4.85" fill="#63a7ce"/>
<circle cx="1325.9" cy="387.4" r="4.85" fill="#2b73b3"/>
<circle cx="1331.7" cy="198.7" r="4.85" fill="#d2594a"/>
<circle cx="1332.4" cy="211.3" r="4.85" fill="#e27b61"/>
<circle cx="1332.4" cy="234.0" r="4.85" fill="#f6b090"/>
<circle cx="1332.4" cy="336.7" r="4.85" fill="#95c7df"/>
<circle cx="1332.4" cy="352.9" r="4.85" fill="#6aabd0"/>
<circle cx="1337.6" cy="326.9" r="4.85" fill="#aad1e5"/>
<circle cx="1338.9" cy="232.1" r="4.85" fill="#f5ae8d"/>
<circle cx="1338.9" cy="342.5" r="4.85" fill="#86bdda"/>
<circle cx="1338.9" cy="355.5" r="4.85" fill="#63a7ce"/>
<circle cx="1339.2" cy="396.9" r="4.85" fill="#2064aa"/>
<circle cx="1339.2" cy="427.5" r="4.85" fill="#073365"/>
<circle cx="1344.1" cy="334.1" r="4.85" fill="#9bc9e1"/>
<circle cx="1344.1" cy="375.0" r="4.85" fill="#3a87bd"/>
<circle cx="1345.1" cy="417.5" r="4.85" fill="#0e4179"/>
<circle cx="1345.4" cy="234.0" r="4.85" fill="#f6b090"/>
<circle cx="1345.4" cy="355.5" r="4.85" fill="#63a7ce"/>
<circle cx="1345.4" cy="360.7" r="4.85" fill="#549ec9"/>
<circle cx="1345.4" cy="365.9" r="4.85" fill="#4695c4"/>
<circle cx="1345.4" cy="381.5" r="4.85" fill="#327db8"/>
<circle cx="1350.6" cy="212.6" r="4.85" fill="#e37e64"/>
<circle cx="1350.6" cy="218.4" r="4.85" fill="#ea8d70"/>
<circle cx="1350.6" cy="337.3" r="4.85" fill="#94c6df"/>
<circle cx="1350.6" cy="343.8" r="4.85" fill="#83bbd9"/>
<circle cx="1350.6" cy="350.3" r="4.85" fill="#71b0d3"/>
<circle cx="1351.7" cy="157.3" r="4.85" fill="#820923"/>
<circle cx="1356.5" cy="241.2" r="4.85" fill="#f7b99c"/>
<circle cx="1357.1" cy="334.7" r="4.85" fill="#99c9e0"/>
<circle cx="1357.1" cy="342.5" r="4.85" fill="#86bdda"/>
<circle cx="1357.1" cy="362.7" r="4.85" fill="#4f9bc7"/>
<circle cx="1357.8" cy="393.7" r="4.85" fill="#246aae"/>
<circle cx="1357.8" cy="403.7" r="4.85" fill="#1a5898"/>
<circle cx="1363.0" cy="226.2" r="4.85" fill="#f3a280"/>
<circle cx="1363.0" cy="326.3" r="4.85" fill="#acd2e5"/>
<circle cx="1363.0" cy="332.8" r="4.85" fill="#9ecbe1"/>
<circle cx="1363.2" cy="195.7" r="4.85" fill="#ce5146"/>
<circle cx="1363.6" cy="234.0" r="4.85" fill="#f6b090"/>
<circle cx="1363.6" cy="347.7" r="4.85" fill="#78b4d5"/>
<circle cx="1364.3" cy="371.1" r="4.85" fill="#3e8dc0"/>
<circle cx="1370.1" cy="329.5" r="4.85" fill="#a5cfe3"/>
<circle cx="1370.1" cy="347.7" r="4.85" fill="#78b4d5"/>
<circle cx="1375.3" cy="362.0" r="4.85" fill="#519cc8"/>
<circle cx="1376.0" cy="380.9" r="4.85" fill="#337db8"/>
<circle cx="1381.8" cy="223.0" r="4.85" fill="#ef9a79"/>
<circle cx="1381.8" cy="229.5" r="4.85" fill="#f5aa88"/>
<circle cx="1381.8" cy="234.7" r="4.85" fill="#f6b191"/>
<circle cx="1381.8" cy="336.0" r="4.85" fill="#97c7df"/>
<circle cx="1381.8" cy="343.8" r="4.85" fill="#83bbd9"/>
<circle cx="1381.8" cy="350.3" r="4.85" fill="#71b0d3"/>
<circle cx="1381.8" cy="360.7" r="4.85" fill="#549ec9"/>
<circle cx="1383.1" cy="189.8" r="4.85" fill="#c6403e"/>
<circle cx="1383.1" cy="245.1" r="4.85" fill="#f8bea2"/>
<circle cx="1383.1" cy="367.2" r="4.85" fill="#4393c3"/>
<circle cx="1388.3" cy="219.1" r="4.85" fill="#eb8f71"/>
<circle cx="1388.3" cy="230.1" r="4.85" fill="#f5ab89"/>
<circle cx="1388.3" cy="237.9" r="4.85" fill="#f7b597"/>
<circle cx="1388.3" cy="329.5" r="4.85" fill="#a5cfe3"/>
<circle cx="1388.3" cy="357.5" r="4.85" fill="#5da4cc"/>
<circle cx="1389.0" cy="372.4" r="4.85" fill="#3d8bbf"/>
<circle cx="1389.4" cy="189.2" r="4.85" fill="#c53f3d"/>
<circle cx="1394.8" cy="223.0" r="4.85" fill="#ef9a79"/>
<circle cx="1394.8" cy="229.5" r="4.85" fill="#f5aa88"/>
<circle cx="1394.8" cy="338.0" r="4.85" fill="#92c5de"/>
<circle cx="1394.8" cy="356.8" r="4.85" fill="#5fa5cd"/>
<circle cx="1394.8" cy="386.7" r="4.85" fill="#2c74b3"/>
<circle cx="1395.5" cy="326.9" r="4.85" fill="#aad1e5"/>
<circle cx="1395.5" cy="365.9" r="4.85" fill="#4695c4"/>
<circle cx="1395.5" cy="442.7" r="4.85" fill="#053061"/>
<circle cx="1400.0" cy="347.7" r="4.85" fill="#78b4d5"/>
<circle cx="1401.3" cy="223.0" r="4.85" fill="#ef9a79"/>
<circle cx="1401.3" cy="329.5" r="4.85" fill="#a5cfe3"/>
<circle cx="1401.3" cy="352.9" r="4.85" fill="#6aabd0"/>
<circle cx="1401.3" cy="381.5" r="4.85" fill="#327db8"/>
<circle cx="1401.6" cy="399.8" r="4.85" fill="#1d5fa2"/>
<circle cx="1406.5" cy="346.4" r="4.85" fill="#7bb7d6"/>
<circle cx="1407.2" cy="213.9" r="4.85" fill="#e58267"/>
<circle cx="1407.2" cy="382.2" r="4.85" fill="#317bb7"/>
<circle cx="1407.8" cy="331.5" r="4.85" fill="#a0cce2"/>
<circle cx="1407.8" cy="338.0" r="4.85" fill="#92c5de"/>
<circle cx="1407.8" cy="370.1" r="4.85" fill="#3f8ec1"/>
<circle cx="1408.5" cy="221.7" r="4.85" fill="#ee9677"/>
<circle cx="1413.0" cy="234.0" r="4.85" fill="#f6b090"/>
<circle cx="1413.0" cy="347.7" r="4.85" fill="#78b4d5"/>
<circle cx="1413.0" cy="359.4" r="4.85" fill="#58a0ca"/>
<circle cx="1413.7" cy="194.0" r="4.85" fill="#cc4c44"/>
<circle cx="1413.7" cy="336.0" r="4.85" fill="#97c7df"/>
<circle cx="1413.7" cy="430.5" r="4.85" fill="#053061"/>
<circle cx="1415.0" cy="235.3" r="4.85" fill="#f6b292"/>
<circle cx="1415.0" cy="343.8" r="4.85" fill="#83bbd9"/>
<circle cx="1415.0" cy="359.4" r="4.85" fill="#58a0ca"/>
<circle cx="1419.6" cy="219.1" r="4.85" fill="#eb8f71"/>
<circle cx="1419.6" cy="243.1" r="4.85" fill="#f8bc9f"/>
<circle cx="1419.6" cy="329.5" r="4.85" fill="#a5cfe3"/>
<circle cx="1419.6" cy="336.0" r="4.85" fill="#97c7df"/>
<circle cx="1420.2" cy="354.2" r="4.85" fill="#66a9cf"/>
<circle cx="1420.2" cy="379.6" r="4.85" fill="#347fb9"/>
<circle cx="1426.7" cy="359.4" r="4.85" fill="#58a0ca"/>
<circle cx="1426.7" cy="365.9" r="4.85" fill="#4695c4"/>
<circle cx="1426.7" cy="375.0" r="4.85" fill="#3a87bd"/>
<circle cx="1427.1" cy="198.3" r="4.85" fill="#d25849"/>
<circle cx="1427.4" cy="226.9" r="4.85" fill="#f4a481"/>
<circle cx="1432.6" cy="212.6" r="4.85" fill="#e37e64"/>
<circle cx="1432.6" cy="331.5" r="4.85" fill="#a0cce2"/>
<circle cx="1432.6" cy="338.6" r="4.85" fill="#91c4de"/>
<circle cx="1432.6" cy="345.8" r="4.85" fill="#7db8d7"/>
<circle cx="1432.6" cy="352.9" r="4.85" fill="#6aabd0"/>
<circle cx="1432.6" cy="405.4" r="4.85" fill="#185494"/>
<circle cx="1433.2" cy="372.4" r="4.85" fill="#3d8bbf"/>
<circle cx="1438.4" cy="380.2" r="4.85" fill="#347fb9"/>
<circle cx="1438.4" cy="385.4" r="4.85" fill="#2d76b4"/>
<circle cx="1439.1" cy="332.1" r="4.85" fill="#9fcce2"/>
<circle cx="1439.1" cy="338.0" r="4.85" fill="#92c5de"/>
<circle cx="1439.1" cy="346.4" r="4.85" fill="#7bb7d6"/>
<circle cx="1439.1" cy="354.2" r="4.85" fill="#66a9cf"/>
<circle cx="1439.1" cy="360.7" r="4.85" fill="#549ec9"/>
<circle cx="1445.6" cy="341.2" r="4.85" fill="#8ac0db"/>
<circle cx="1445.6" cy="348.4" r="4.85" fill="#76b3d4"/>
<circle cx="1445.6" cy="355.5" r="4.85" fill="#63a7ce"/>
<circle cx="1445.6" cy="364.6" r="4.85" fill="#4a97c5"/>
<circle cx="1445.6" cy="396.3" r="4.85" fill="#2165ab"/>
<circle cx="1445.6" cy="405.4" r="4.85" fill="#185494"/>
<circle cx="1445.6" cy="421.6" r="4.85" fill="#0b3c71"/>
<circle cx="1451.2" cy="224.9" r="4.85" fill="#f19f7d"/>
<circle cx="1451.4" cy="332.1" r="4.85" fill="#9fcce2"/>
<circle cx="1451.4" cy="363.3" r="4.85" fill="#4d99c7"/>
<circle cx="1451.4" cy="407.1" r="4.85" fill="#16518f"/>
<circle cx="1457.3" cy="331.5" r="4.85" fill="#a0cce2"/>
<circle cx="1457.3" cy="338.0" r="4.85" fill="#92c5de"/>
<circle cx="1457.9" cy="345.1" r="4.85" fill="#7fb9d7"/>
<circle cx="1457.9" cy="352.9" r="4.85" fill="#6aabd0"/>
<circle cx="1457.9" cy="358.1" r="4.85" fill="#5ba2cb"/>
<circle cx="1457.9" cy="369.8" r="4.85" fill="#408fc1"/>
<circle cx="1457.9" cy="375.0" r="4.85" fill="#3a87bd"/>
<circle cx="1457.9" cy="380.2" r="4.85" fill="#347fb9"/>
<circle cx="1463.8" cy="329.5" r="4.85" fill="#a5cfe3"/>
<circle cx="1463.8" cy="336.0" r="4.85" fill="#97c7df"/>
<circle cx="1463.8" cy="347.7" r="4.85" fill="#78b4d5"/>
<circle cx="1463.8" cy="355.5" r="4.85" fill="#63a7ce"/>
<circle cx="1463.8" cy="364.6" r="4.85" fill="#4a97c5"/>
<circle cx="1463.8" cy="384.1" r="4.85" fill="#2f78b5"/>
<circle cx="1463.8" cy="393.4" r="4.85" fill="#246aae"/>
<circle cx="1464.4" cy="194.4" r="4.85" fill="#cd4d44"/>
<circle cx="1469.6" cy="342.5" r="4.85" fill="#86bdda"/>
<circle cx="1469.6" cy="349.0" r="4.85" fill="#74b2d4"/>
<circle cx="1469.6" cy="379.6" r="4.85" fill="#347fb9"/>
<circle cx="1470.9" cy="166.7" r="4.85" fill="#9a1027"/>
<circle cx="1470.9" cy="199.6" r="4.85" fill="#d45b4b"/>
<circle cx="1470.9" cy="216.5" r="4.85" fill="#e8886c"/>
<circle cx="1470.9" cy="229.5" r="4.85" fill="#f5aa88"/>
<circle cx="1470.9" cy="236.0" r="4.85" fill="#f6b394"/>
<circle cx="1476.1" cy="343.8" r="4.85" fill="#83bbd9"/>
<circle cx="1476.1" cy="350.3" r="4.85" fill="#71b0d3"/>
<circle cx="1476.1" cy="358.1" r="4.85" fill="#5ba2cb"/>
<circle cx="1476.1" cy="364.6" r="4.85" fill="#4a97c5"/>
<circle cx="1476.1" cy="386.7" r="4.85" fill="#2c74b3"/>
<circle cx="1476.1" cy="405.4" r="4.85" fill="#185494"/>
<circle cx="1476.1" cy="411.2" r="4.85" fill="#134a86"/>
<circle cx="1477.0" cy="138.1" r="4.85" fill="#67001f"/>
<circle cx="1477.2" cy="167.7" r="4.85" fill="#9d1128"/>
<circle cx="1477.2" cy="182.0" r="4.85" fill="#bb2b34"/>
<circle cx="1477.4" cy="221.0" r="4.85" fill="#ed9475"/>
<circle cx="1477.4" cy="229.5" r="4.85" fill="#f5aa88"/>
<circle cx="1477.4" cy="243.1" r="4.85" fill="#f8bc9f"/>
<circle cx="1482.0" cy="326.9" r="4.85" fill="#aad1e5"/>
<circle cx="1482.0" cy="332.1" r="4.85" fill="#9fcce2"/>
<circle cx="1482.0" cy="347.7" r="4.85" fill="#78b4d5"/>
<circle cx="1482.6" cy="369.2" r="4.85" fill="#4090c1"/>
<circle cx="1482.6" cy="380.9" r="4.85" fill="#337db8"/>
<circle cx="1483.3" cy="193.1" r="4.85" fill="#cb4a42"/>
<circle cx="1483.3" cy="211.9" r="4.85" fill="#e27c63"/>
<circle cx="1483.9" cy="229.5" r="4.85" fill="#f5aa88"/>
<circle cx="1487.8" cy="336.0" r="4.85" fill="#97c7df"/>
<circle cx="1487.8" cy="345.1" r="4.85" fill="#7fb9d7"/>
<circle cx="1488.5" cy="360.1" r="4.85" fill="#569fc9"/>
<circle cx="1489.1" cy="384.8" r="4.85" fill="#2e77b5"/>
<circle cx="1494.3" cy="336.0" r="4.85" fill="#97c7df"/>
<circle cx="1494.3" cy="348.4" r="4.85" fill="#76b3d4"/>
<circle cx="1495.0" cy="366.6" r="4.85" fill="#4494c3"/>
<circle cx="1495.7" cy="169.7" r="4.85" fill="#a21328"/>
<circle cx="1495.7" cy="229.5" r="4.85" fill="#f5aa88"/>
<circle cx="1500.9" cy="326.3" r="4.85" fill="#acd2e5"/>
<circle cx="1500.9" cy="339.9" r="4.85" fill="#8dc2dc"/>
<circle cx="1500.9" cy="356.6" r="4.85" fill="#60a5cd"/>
<circle cx="1500.9" cy="368.5" r="4.85" fill="#4191c2"/>
<circle cx="1501.5" cy="239.2" r="4.85" fill="#f7b799"/>
<circle cx="1507.4" cy="237.9" r="4.85" fill="#f7b597"/>
<circle cx="1507.4" cy="329.5" r="4.85" fill="#a5cfe3"/>
<circle cx="1508.0" cy="219.1" r="4.85" fill="#eb8f71"/>
<circle cx="1508.0" cy="224.9" r="4.85" fill="#f19f7d"/>
<circle cx="1508.0" cy="399.5" r="4.85" fill="#1e5fa3"/>
<circle cx="1508.0" cy="418.4" r="4.85" fill="#0d4077"/>
<circle cx="1513.2" cy="178.8" r="4.85" fill="#b72230"/>
<circle cx="1513.9" cy="189.2" r="4.85" fill="#c53f3d"/>
<circle cx="1513.9" cy="217.1" r="4.85" fill="#e88a6d"/>
<circle cx="1513.9" cy="231.4" r="4.85" fill="#f5ad8c"/>
<circle cx="1513.9" cy="242.5" r="4.85" fill="#f8bb9e"/>
<circle cx="1513.9" cy="331.5" r="4.85" fill="#a0cce2"/>
<circle cx="1513.9" cy="339.9" r="4.85" fill="#8dc2dc"/>
<circle cx="1513.9" cy="369.8" r="4.85" fill="#408fc1"/>
<circle cx="1513.9" cy="375.0" r="4.85" fill="#3a87bd"/>
<circle cx="1519.7" cy="180.1" r="4.85" fill="#b92631"/>
<circle cx="1519.7" cy="206.7" r="4.85" fill="#dc6e58"/>
<circle cx="1519.7" cy="213.9" r="4.85" fill="#e58267"/>
<circle cx="1520.4" cy="227.5" r="4.85" fill="#f4a582"/>
<circle cx="1520.4" cy="331.5" r="4.85" fill="#a0cce2"/>
<circle cx="1520.4" cy="338.0" r="4.85" fill="#92c5de"/>
<circle cx="1520.4" cy="354.9" r="4.85" fill="#64a8ce"/>
<circle cx="1520.4" cy="380.2" r="4.85" fill="#347fb9"/>
<circle cx="1526.2" cy="242.5" r="4.85" fill="#f8bb9e"/>
<circle cx="1526.9" cy="226.9" r="4.85" fill="#f4a481"/>
<circle cx="1526.9" cy="234.0" r="4.85" fill="#f6b090"/>
<circle cx="1526.9" cy="330.8" r="4.85" fill="#a2cde3"/>
<circle cx="1526.9" cy="349.0" r="4.85" fill="#74b2d4"/>
<circle cx="1526.9" cy="355.5" r="4.85" fill="#63a7ce"/>
<circle cx="1526.9" cy="361.4" r="4.85" fill="#529dc8"/>
<circle cx="1526.9" cy="386.7" r="4.85" fill="#2c74b3"/>
<circle cx="1532.1" cy="150.2" r="4.85" fill="#740421"/>
<circle cx="1532.1" cy="338.6" r="4.85" fill="#91c4de"/>
<circle cx="1532.1" cy="345.1" r="4.85" fill="#7fb9d7"/>
<circle cx="1532.1" cy="352.9" r="4.85" fill="#6aabd0"/>
<circle cx="1533.4" cy="329.5" r="4.85" fill="#a5cfe3"/>
<circle cx="1533.4" cy="374.4" r="4.85" fill="#3a88bd"/>
<circle cx="1537.9" cy="210.6" r="4.85" fill="#e17960"/>
<circle cx="1537.9" cy="230.1" r="4.85" fill="#f5ab89"/>
<circle cx="1537.9" cy="234.0" r="4.85" fill="#f6b090"/>
<circle cx="1538.6" cy="337.3" r="4.85" fill="#94c6df"/>
<circle cx="1538.6" cy="346.4" r="4.85" fill="#7bb7d6"/>
<circle cx="1538.6" cy="364.0" r="4.85" fill="#4b98c6"/>
<circle cx="1538.6" cy="375.0" r="4.85" fill="#3a87bd"/>
<circle cx="1539.2" cy="417.5" r="4.85" fill="#0e4179"/>
<circle cx="1545.1" cy="328.2" r="4.85" fill="#a8d0e4"/>
<circle cx="1545.1" cy="336.0" r="4.85" fill="#97c7df"/>
<circle cx="1545.1" cy="345.1" r="4.85" fill="#7fb9d7"/>
<circle cx="1545.1" cy="355.5" r="4.85" fill="#63a7ce"/>
<circle cx="1545.1" cy="363.3" r="4.85" fill="#4d99c7"/>
<circle cx="1545.1" cy="368.5" r="4.85" fill="#4191c2"/>
<circle cx="1545.7" cy="377.0" r="4.85" fill="#3784bb"/>
<circle cx="1545.7" cy="447.6" r="4.85" fill="#053061"/>
<circle cx="1550.9" cy="235.3" r="4.85" fill="#f6b292"/>
<circle cx="1551.6" cy="239.2" r="4.85" fill="#f7b799"/>
<circle cx="1551.6" cy="328.2" r="4.85" fill="#a8d0e4"/>
<circle cx="1551.6" cy="339.9" r="4.85" fill="#8dc2dc"/>
<circle cx="1551.6" cy="348.4" r="4.85" fill="#76b3d4"/>
<circle cx="1551.6" cy="358.1" r="4.85" fill="#5ba2cb"/>
<circle cx="1551.6" cy="364.6" r="4.85" fill="#4a97c5"/>
<circle cx="1551.6" cy="381.5" r="4.85" fill="#327db8"/>
<circle cx="1551.6" cy="388.0" r="4.85" fill="#2a72b2"/>
<circle cx="1551.6" cy="433.1" r="4.85" fill="#053061"/>
<circle cx="1552.2" cy="395.6" r="4.85" fill="#2167ac"/>
<circle cx="1552.2" cy="416.4" r="4.85" fill="#0f437b"/>
<circle cx="1557.4" cy="329.5" r="4.85" fill="#a5cfe3"/>
<circle cx="1557.4" cy="358.1" r="4.85" fill="#5ba2cb"/>
<circle cx="1558.1" cy="337.3" r="4.85" fill="#94c6df"/>
<circle cx="1558.1" cy="392.4" r="4.85" fill="#256caf"/>
<circle cx="1558.1" cy="404.5" r="4.85" fill="#195696"/>
<circle cx="1558.1" cy="426.6" r="4.85" fill="#073467"/>
<circle cx="1563.9" cy="326.9" r="4.85" fill="#aad1e5"/>
<circle cx="1563.9" cy="345.1" r="4.85" fill="#7fb9d7"/>
<circle cx="1563.9" cy="351.6" r="4.85" fill="#6daed1"/>
<circle cx="1563.9" cy="363.3" r="4.85" fill="#4d99c7"/>
<circle cx="1563.9" cy="376.6" r="4.85" fill="#3884bb"/>
<circle cx="1564.6" cy="174.6" r="4.85" fill="#b0172b"/>
<circle cx="1564.6" cy="232.7" r="4.85" fill="#f6af8e"/>
<circle cx="1564.6" cy="334.7" r="4.85" fill="#99c9e0"/>
<circle cx="1565.9" cy="204.1" r="4.85" fill="#d96853"/>
<circle cx="1569.8" cy="325.0" r="4.85" fill="#afd4e6"/>
<circle cx="1569.8" cy="343.8" r="4.85" fill="#83bbd9"/>
<circle cx="1569.8" cy="356.2" r="4.85" fill="#61a6cd"/>
<circle cx="1570.4" cy="240.5" r="4.85" fill="#f7b89b"/>
<circle cx="1570.4" cy="336.0" r="4.85" fill="#97c7df"/>
<circle cx="1570.8" cy="105.0" r="4.85" fill="#67001f"/>
<circle cx="1571.1" cy="177.5" r="4.85" fill="#b51e2e"/>
<circle cx="1571.1" cy="197.6" r="4.85" fill="#d15648"/>
<circle cx="1571.1" cy="211.9" r="4.85" fill="#e27c63"/>
<circle cx="1576.3" cy="346.4" r="4.85" fill="#7bb7d6"/>
<circle cx="1577.0" cy="192.8" r="4.85" fill="#ca4942"/>
<circle cx="1577.0" cy="230.8" r="4.85" fill="#f5ac8b"/>
<circle cx="1577.0" cy="222.3" r="4.85" fill="#ee9878"/>
<circle cx="1582.2" cy="326.3" r="4.85" fill="#acd2e5"/>
<circle cx="1582.2" cy="338.0" r="4.85" fill="#92c5de"/>
<circle cx="1582.2" cy="373.7" r="4.85" fill="#3b89be"/>
<circle cx="1582.2" cy="390.0" r="4.85" fill="#286fb1"/>
<circle cx="1582.8" cy="345.1" r="4.85" fill="#7fb9d7"/>
<circle cx="1582.8" cy="350.3" r="4.85" fill="#71b0d3"/>
<circle cx="1583.5" cy="237.9" r="4.85" fill="#f7b597"/>
<circle cx="1584.1" cy="204.8" r="4.85" fill="#da6954"/>
<circle cx="1584.1" cy="219.1" r="4.85" fill="#eb8f71"/>
<circle cx="1588.7" cy="328.2" r="4.85" fill="#a8d0e4"/>
<circle cx="1588.7" cy="336.0" r="4.85" fill="#97c7df"/>
<circle cx="1588.7" cy="356.8" r="4.85" fill="#5fa5cd"/>
<circle cx="1588.7" cy="396.9" r="4.85" fill="#2064aa"/>
<circle cx="1588.7" cy="418.4" r="4.85" fill="#0d4077"/>
<circle cx="1589.3" cy="232.1" r="4.85" fill="#f5ae8d"/>
<circle cx="1589.3" cy="341.2" r="4.85" fill="#8ac0db"/>
<circle cx="1590.0" cy="223.6" r="4.85" fill="#f09b7a"/>
<circle cx="1595.2" cy="329.5" r="4.85" fill="#a5cfe3"/>
<circle cx="1595.2" cy="347.7" r="4.85" fill="#78b4d5"/>
<circle cx="1595.2" cy="364.6" r="4.85" fill="#4a97c5"/>
<circle cx="1595.2" cy="388.0" r="4.85" fill="#2a72b2"/>
<circle cx="1595.8" cy="231.4" r="4.85" fill="#f5ad8c"/>
<circle cx="1596.5" cy="152.4" r="4.85" fill="#780622"/>
<circle cx="1596.5" cy="212.6" r="4.85" fill="#e37e64"/>
<circle cx="1601.7" cy="330.8" r="4.85" fill="#a2cde3"/>
<circle cx="1601.7" cy="366.6" r="4.85" fill="#4494c3"/>
<circle cx="1602.3" cy="216.5" r="4.85" fill="#e8886c"/>
<circle cx="1602.3" cy="226.2" r="4.85" fill="#f3a280"/>
<circle cx="1608.8" cy="222.3" r="4.85" fill="#ee9878"/>
<circle cx="1608.8" cy="245.7" r="4.85" fill="#f8bfa3"/>
<circle cx="1608.8" cy="411.9" r="4.85" fill="#124984"/>
<circle cx="1614.0" cy="234.7" r="4.85" fill="#f6b191"/>
<circle cx="1614.7" cy="240.5" r="4.85" fill="#f7b89b"/>
<circle cx="1614.7" cy="339.9" r="4.85" fill="#8dc2dc"/>
<circle cx="1614.7" cy="345.8" r="4.85" fill="#7db8d7"/>
<circle cx="1614.7" cy="372.4" r="4.85" fill="#3d8bbf"/>
<circle cx="1619.9" cy="186.2" r="4.85" fill="#c13639"/>
<circle cx="1619.9" cy="362.0" r="4.85" fill="#519cc8"/>
<circle cx="1620.5" cy="225.6" r="4.85" fill="#f2a07f"/>
<circle cx="1620.5" cy="236.6" r="4.85" fill="#f6b394"/>
<circle cx="1620.5" cy="378.9" r="4.85" fill="#3581ba"/>
<circle cx="1621.2" cy="436.8" r="4.85" fill="#053061"/>
<circle cx="1626.4" cy="215.4" r="4.85" fill="#e6856a"/>
<circle cx="1627.0" cy="238.6" r="4.85" fill="#f7b698"/>
<circle cx="1627.0" cy="334.1" r="4.85" fill="#9bc9e1"/>
<circle cx="1627.0" cy="344.5" r="4.85" fill="#81bad8"/>
<circle cx="1627.0" cy="352.9" r="4.85" fill="#6aabd0"/>
<circle cx="1627.0" cy="359.4" r="4.85" fill="#58a0ca"/>
<circle cx="1627.0" cy="386.7" r="4.85" fill="#2c74b3"/>
<circle cx="1633.5" cy="342.5" r="4.85" fill="#86bdda"/>
<circle cx="1633.5" cy="351.6" r="4.85" fill="#6daed1"/>
<circle cx="1633.5" cy="359.4" r="4.85" fill="#58a0ca"/>
<circle cx="1633.5" cy="367.2" r="4.85" fill="#4393c3"/>
<circle cx="1633.5" cy="424.6" r="4.85" fill="#09376b"/>
<circle cx="1638.7" cy="243.1" r="4.85" fill="#f8bc9f"/>
<circle cx="1638.7" cy="387.4" r="4.85" fill="#2b73b3"/>
<circle cx="1640.0" cy="325.6" r="4.85" fill="#add3e6"/>
<circle cx="1640.0" cy="345.1" r="4.85" fill="#7fb9d7"/>
<circle cx="1640.0" cy="352.9" r="4.85" fill="#6aabd0"/>
<circle cx="1640.0" cy="359.4" r="4.85" fill="#58a0ca"/>
<circle cx="1644.6" cy="239.9" r="4.85" fill="#f7b89a"/>
<circle cx="1645.2" cy="336.0" r="4.85" fill="#97c7df"/>
<circle cx="1645.2" cy="349.0" r="4.85" fill="#74b2d4"/>
<circle cx="1645.2" cy="356.8" r="4.85" fill="#5fa5cd"/>
<circle cx="1645.2" cy="367.2" r="4.85" fill="#4393c3"/>
<circle cx="1645.2" cy="380.2" r="4.85" fill="#347fb9"/>
<line x1="1339.6" y1="522.1" x2="1339.6" y2="50.6" stroke="#1572b7" stroke-width="2.7" stroke-dasharray="11.6 5.32" stroke-dashoffset="0.0"/>
<line x1="1374.9" y1="522.1" x2="1374.9" y2="50.6" stroke="#1572b7" stroke-width="2.7" stroke-dasharray="11.6 5.32" stroke-dashoffset="0.0"/>
<line x1="1541.4" y1="522.1" x2="1541.4" y2="50.6" stroke="#666666" stroke-width="2.4" stroke-dasharray="11.6 5.32" stroke-dashoffset="0.0"/>
<line x1="1576.7" y1="522.1" x2="1576.7" y2="50.6" stroke="#666666" stroke-width="2.4" stroke-dasharray="11.6 5.32" stroke-dashoffset="0.0"/>
<line x1="1180.5" y1="238.2" x2="1274.0" y2="238.2" stroke="#ff0000" stroke-width="4.5"/>
<line x1="1274.0" y1="223.0" x2="1367.5" y2="223.0" stroke="#ff0000" stroke-width="4.5"/>
<line x1="1367.5" y1="241.4" x2="1461.1" y2="241.4" stroke="#ff0000" stroke-width="4.5"/>
<line x1="1461.1" y1="192.4" x2="1554.6" y2="192.4" stroke="#ff0000" stroke-width="4.5"/>
<line x1="1554.6" y1="204.5" x2="1648.1" y2="204.5" stroke="#ff0000" stroke-width="4.5"/>
<line x1="1180.5" y1="345.4" x2="1274.0" y2="345.4" stroke="#0000ff" stroke-width="4.5"/>
<line x1="1274.0" y1="389.8" x2="1367.5" y2="389.8" stroke="#0000ff" stroke-width="4.5"/>
<line x1="1367.5" y1="490.7" x2="1461.1" y2="490.7" stroke="#0000ff" stroke-width="4.5"/>
<line x1="1461.1" y1="490.7" x2="1554.6" y2="490.7" stroke="#0000ff" stroke-width="4.5"/>
<line x1="1554.6" y1="461.7" x2="1648.1" y2="461.7" stroke="#0000ff" stroke-width="4.5"/>
</g>
<rect x="1180.5" y="50.6" width="467.6" height="471.5" fill="none" stroke="#000" stroke-width="1.45"/>
<line x1="1180.5" y1="522.1" x2="1180.5" y2="530.1" stroke="#000" stroke-width="1.45"/>
<text transform="translate(1179.5,560.1) scale(1,1.100)" font-size="30.6" text-anchor="middle">09/05</text>
<line x1="1274.0" y1="522.1" x2="1274.0" y2="530.1" stroke="#000" stroke-width="1.45"/>
<text transform="translate(1273.0,560.1) scale(1,1.100)" font-size="30.6" text-anchor="middle">10/05</text>
<line x1="1367.5" y1="522.1" x2="1367.5" y2="530.1" stroke="#000" stroke-width="1.45"/>
<text transform="translate(1366.5,560.1) scale(1,1.100)" font-size="30.6" text-anchor="middle">11/05</text>
<line x1="1461.1" y1="522.1" x2="1461.1" y2="530.1" stroke="#000" stroke-width="1.45"/>
<text transform="translate(1460.1,560.1) scale(1,1.100)" font-size="30.6" text-anchor="middle">12/05</text>
<line x1="1554.6" y1="522.1" x2="1554.6" y2="530.1" stroke="#000" stroke-width="1.45"/>
<text transform="translate(1553.6,560.1) scale(1,1.100)" font-size="30.6" text-anchor="middle">13/05</text>
<line x1="1648.1" y1="522.1" x2="1648.1" y2="530.1" stroke="#000" stroke-width="1.45"/>
<text transform="translate(1647.1,560.1) scale(1,1.100)" font-size="30.6" text-anchor="middle">14/05</text>
<line x1="1172.5" y1="84.2" x2="1180.5" y2="84.2" stroke="#000" stroke-width="1.45"/>
<line x1="1172.5" y1="186.2" x2="1180.5" y2="186.2" stroke="#000" stroke-width="1.45"/>
<line x1="1172.5" y1="287.2" x2="1180.5" y2="287.2" stroke="#000" stroke-width="1.45"/>
<line x1="1172.5" y1="388.3" x2="1180.5" y2="388.3" stroke="#000" stroke-width="1.45"/>
<line x1="1172.5" y1="489.2" x2="1180.5" y2="489.2" stroke="#000" stroke-width="1.45"/>
<text transform="translate(1414.3,37.8) scale(1,1.070)" font-size="31.6" text-anchor="middle">95 km</text>
<text transform="translate(1412.3,600.0) scale(1,1.030)" font-size="31.8" text-anchor="middle">Date (dd/mm)</text>
<text transform="translate(1198.5,95.0) scale(1,1.050)" font-size="23.4">(c)</text>
</g>
<text transform="translate(36.0,289.0) rotate(-90) scale(1,1.030)" font-size="32.0" text-anchor="middle">Proportion of Significant Points (%)</text>
<defs><linearGradient id="rdbu" x1="0" y1="500.6" x2="0" y2="70.9" gradientUnits="userSpaceOnUse">
<stop offset="0.0000" stop-color="#053061"/>
<stop offset="0.0156" stop-color="#09386d"/>
<stop offset="0.0312" stop-color="#0e4178"/>
<stop offset="0.0469" stop-color="#124984"/>
<stop offset="0.0625" stop-color="#165290"/>
<stop offset="0.0781" stop-color="#1b5a9c"/>
<stop offset="0.0938" stop-color="#1f63a7"/>
<stop offset="0.1094" stop-color="#246aae"/>
<stop offset="0.1250" stop-color="#2a71b2"/>
<stop offset="0.1406" stop-color="#2f78b5"/>
<stop offset="0.1562" stop-color="#347fb9"/>
<stop offset="0.1719" stop-color="#3986bd"/>
<stop offset="0.1875" stop-color="#3f8dc0"/>
<stop offset="0.2031" stop-color="#4595c4"/>
<stop offset="0.2188" stop-color="#529cc8"/>
<stop offset="0.2344" stop-color="#5ea4cc"/>
<stop offset="0.2500" stop-color="#6aacd0"/>
<stop offset="0.2656" stop-color="#77b4d5"/>
<stop offset="0.2812" stop-color="#83bcd9"/>
<stop offset="0.2969" stop-color="#90c3dd"/>
<stop offset="0.3125" stop-color="#9ac9e0"/>
<stop offset="0.3281" stop-color="#a4cee3"/>
<stop offset="0.3438" stop-color="#aed3e6"/>
<stop offset="0.3594" stop-color="#b7d8e9"/>
<stop offset="0.3750" stop-color="#c1ddec"/>
<stop offset="0.3906" stop-color="#cbe2ee"/>
<stop offset="0.4062" stop-color="#d3e6f0"/>
<stop offset="0.4219" stop-color="#d9e9f2"/>
<stop offset="0.4375" stop-color="#dfecf3"/>
<stop offset="0.4531" stop-color="#e5eff4"/>
<stop offset="0.4688" stop-color="#ebf1f5"/>
<stop offset="0.4844" stop-color="#f1f4f6"/>
<stop offset="0.5000" stop-color="#f7f7f7"/>
<stop offset="0.5156" stop-color="#f8f3f0"/>
<stop offset="0.5312" stop-color="#f9eee8"/>
<stop offset="0.5469" stop-color="#faeae0"/>
<stop offset="0.5625" stop-color="#fbe6d9"/>
<stop offset="0.5781" stop-color="#fce1d2"/>
<stop offset="0.5938" stop-color="#fdddca"/>
<stop offset="0.6094" stop-color="#fcd6c1"/>
<stop offset="0.6250" stop-color="#fbceb6"/>
<stop offset="0.6406" stop-color="#f9c5ab"/>
<stop offset="0.6562" stop-color="#f8bda0"/>
<stop offset="0.6719" stop-color="#f7b495"/>
<stop offset="0.6875" stop-color="#f5ac8b"/>
<stop offset="0.7031" stop-color="#f3a380"/>
<stop offset="0.7188" stop-color="#ee9878"/>
<stop offset="0.7344" stop-color="#ea8d70"/>
<stop offset="0.7500" stop-color="#e58268"/>
<stop offset="0.7656" stop-color="#e0785f"/>
<stop offset="0.7812" stop-color="#dc6d57"/>
<stop offset="0.7969" stop-color="#d7624f"/>
<stop offset="0.8125" stop-color="#d25749"/>
<stop offset="0.8281" stop-color="#cc4c43"/>
<stop offset="0.8438" stop-color="#c6403e"/>
<stop offset="0.8594" stop-color="#c13539"/>
<stop offset="0.8750" stop-color="#bb2a34"/>
<stop offset="0.8906" stop-color="#b51f2e"/>
<stop offset="0.9062" stop-color="#ad162a"/>
<stop offset="0.9219" stop-color="#a21328"/>
<stop offset="0.9375" stop-color="#960f26"/>
<stop offset="0.9531" stop-color="#8a0b25"/>
<stop offset="0.9688" stop-color="#7e0823"/>
<stop offset="0.9844" stop-color="#730421"/>
<stop offset="1.0000" stop-color="#67001f"/>
</linearGradient></defs>
<g id="colorbar">
<rect x="1686.5" y="70.4" width="40.2" height="430.7" fill="url(#rdbu)"/>
<path d="M1686.5 70.9 L1706.6 49.6 L1726.7 70.9 Z" fill="#67001f"/>
<path d="M1686.5 500.6 L1706.6 521.9 L1726.7 500.6 Z" fill="#053061"/>
<path d="M1686.5 70.9 L1706.6 49.6 L1726.7 70.9 L1726.7 500.6 L1706.6 521.9 L1686.5 500.6 Z" fill="none" stroke="#000" stroke-width="1.45" stroke-linejoin="miter"/>
<line x1="1726.7" y1="95.0" x2="1734.7" y2="95.0" stroke="#000" stroke-width="1.45"/>
<text transform="translate(1741.3,107.4) scale(1,1.100)" font-size="30.6">40</text>
<line x1="1726.7" y1="192.3" x2="1734.7" y2="192.3" stroke="#000" stroke-width="1.45"/>
<text transform="translate(1741.3,204.7) scale(1,1.100)" font-size="30.6">20</text>
<line x1="1726.7" y1="287.2" x2="1734.7" y2="287.2" stroke="#000" stroke-width="1.45"/>
<text transform="translate(1741.3,299.6) scale(1,1.100)" font-size="30.6">0</text>
<line x1="1726.7" y1="382.2" x2="1734.7" y2="382.2" stroke="#000" stroke-width="1.45"/>
<text transform="translate(1741.3,394.6) scale(1,1.100)" font-size="30.6">−20</text>
<line x1="1726.7" y1="477.0" x2="1734.7" y2="477.0" stroke="#000" stroke-width="1.45"/>
<text transform="translate(1741.3,489.4) scale(1,1.100)" font-size="30.6">−40</text>
<text transform="translate(1834.6,287.5) rotate(-90) scale(1,1.030)" font-size="31.7" text-anchor="middle">Differences (%)</text>
</g>
</svg></body></html>
